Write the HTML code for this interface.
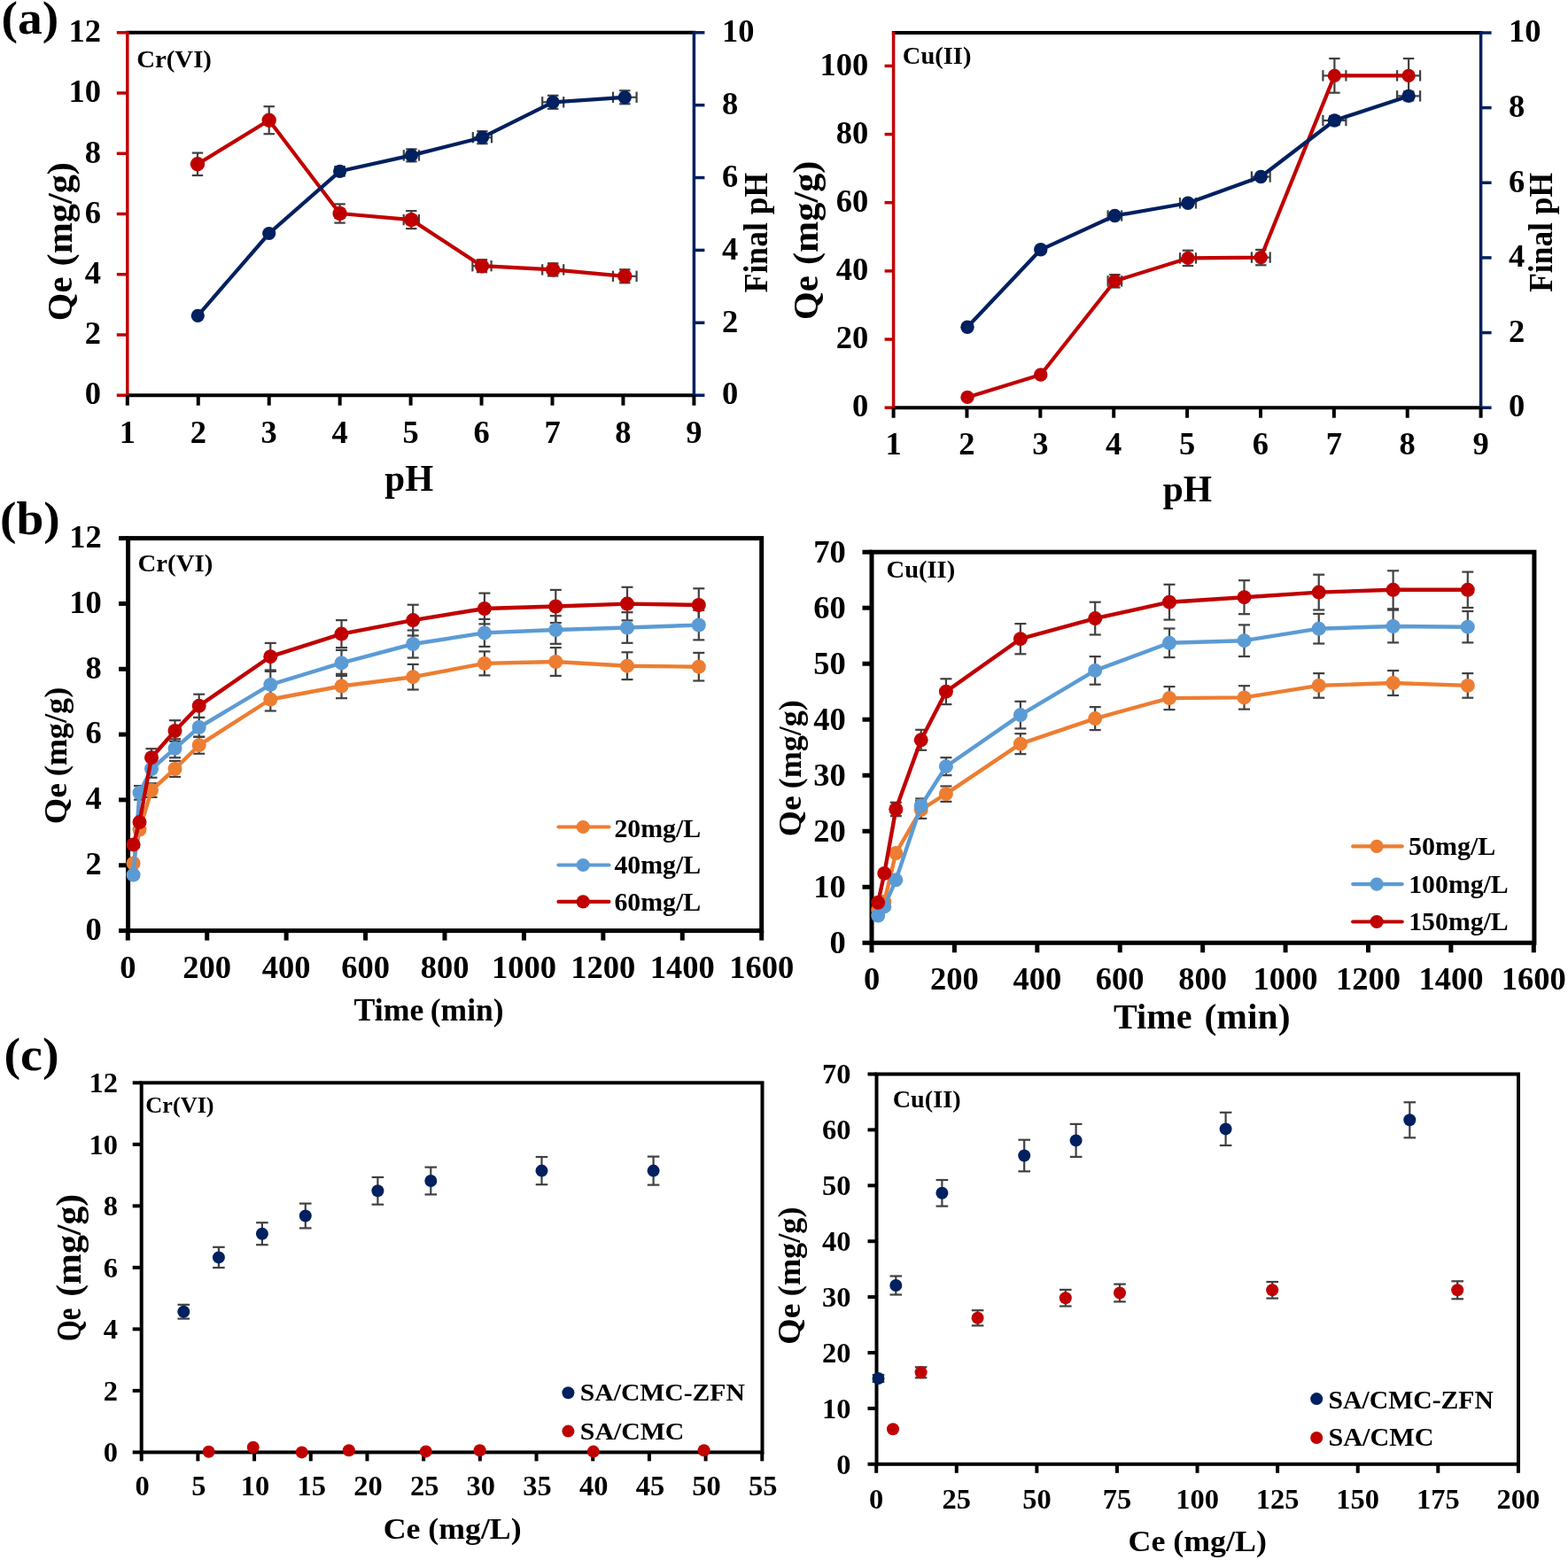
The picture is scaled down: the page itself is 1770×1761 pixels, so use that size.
<!DOCTYPE html>
<html><head><meta charset="utf-8"><title>Adsorption figure</title>
<style>
html,body{margin:0;padding:0;background:#fff;}
svg{display:block;}
text{font-family:'Liberation Serif', 'Times New Roman', serif;font-weight:bold;fill:#000;}
</style></head><body>
<svg width="1770" height="1761" viewBox="0 0 1770 1761">
<rect width="1770" height="1761" fill="#fff"/>
<line x1="142.05" y1="36.80" x2="785.15" y2="36.80" stroke="#000" stroke-width="4" stroke-linecap="butt"/>
<line x1="143.80" y1="446.20" x2="783.40" y2="446.20" stroke="#000" stroke-width="4" stroke-linecap="butt"/>
<line x1="143.80" y1="35.30" x2="143.80" y2="447.70" stroke="#C00000" stroke-width="3.5" stroke-linecap="butt"/>
<line x1="783.40" y1="35.30" x2="783.40" y2="447.70" stroke="#002060" stroke-width="3.5" stroke-linecap="butt"/>
<line x1="131.80" y1="446.20" x2="143.80" y2="446.20" stroke="#C00000" stroke-width="3.5" stroke-linecap="butt"/>
<text x="114.06" y="456.44" font-size="36.5" text-anchor="end">0</text>
<line x1="131.80" y1="377.97" x2="143.80" y2="377.97" stroke="#C00000" stroke-width="3.5" stroke-linecap="butt"/>
<text x="114.06" y="388.21" font-size="36.5" text-anchor="end">2</text>
<line x1="131.80" y1="309.73" x2="143.80" y2="309.73" stroke="#C00000" stroke-width="3.5" stroke-linecap="butt"/>
<text x="114.06" y="319.98" font-size="36.5" text-anchor="end">4</text>
<line x1="131.80" y1="241.50" x2="143.80" y2="241.50" stroke="#C00000" stroke-width="3.5" stroke-linecap="butt"/>
<text x="114.06" y="251.75" font-size="36.5" text-anchor="end">6</text>
<line x1="131.80" y1="173.27" x2="143.80" y2="173.27" stroke="#C00000" stroke-width="3.5" stroke-linecap="butt"/>
<text x="114.06" y="183.51" font-size="36.5" text-anchor="end">8</text>
<line x1="131.80" y1="105.03" x2="143.80" y2="105.03" stroke="#C00000" stroke-width="3.5" stroke-linecap="butt"/>
<text x="114.06" y="115.28" font-size="36.5" text-anchor="end">10</text>
<line x1="131.80" y1="36.80" x2="143.80" y2="36.80" stroke="#C00000" stroke-width="3.5" stroke-linecap="butt"/>
<text x="114.06" y="47.05" font-size="36.5" text-anchor="end">12</text>
<line x1="783.40" y1="446.20" x2="795.40" y2="446.20" stroke="#002060" stroke-width="3.5" stroke-linecap="butt"/>
<text x="815.00" y="456.44" font-size="36.5" text-anchor="start">0</text>
<line x1="783.40" y1="364.32" x2="795.40" y2="364.32" stroke="#002060" stroke-width="3.5" stroke-linecap="butt"/>
<text x="815.00" y="374.56" font-size="36.5" text-anchor="start">2</text>
<line x1="783.40" y1="282.44" x2="795.40" y2="282.44" stroke="#002060" stroke-width="3.5" stroke-linecap="butt"/>
<text x="815.00" y="292.69" font-size="36.5" text-anchor="start">4</text>
<line x1="783.40" y1="200.56" x2="795.40" y2="200.56" stroke="#002060" stroke-width="3.5" stroke-linecap="butt"/>
<text x="815.00" y="210.81" font-size="36.5" text-anchor="start">6</text>
<line x1="783.40" y1="118.68" x2="795.40" y2="118.68" stroke="#002060" stroke-width="3.5" stroke-linecap="butt"/>
<text x="815.00" y="128.92" font-size="36.5" text-anchor="start">8</text>
<line x1="783.40" y1="36.80" x2="795.40" y2="36.80" stroke="#002060" stroke-width="3.5" stroke-linecap="butt"/>
<text x="815.00" y="47.05" font-size="36.5" text-anchor="start">10</text>
<line x1="143.80" y1="446.20" x2="143.80" y2="457.70" stroke="#000" stroke-width="4" stroke-linecap="butt"/>
<text x="143.80" y="499.90" font-size="36.5" text-anchor="middle">1</text>
<line x1="223.75" y1="446.20" x2="223.75" y2="457.70" stroke="#000" stroke-width="4" stroke-linecap="butt"/>
<text x="223.75" y="499.90" font-size="36.5" text-anchor="middle">2</text>
<line x1="303.70" y1="446.20" x2="303.70" y2="457.70" stroke="#000" stroke-width="4" stroke-linecap="butt"/>
<text x="303.70" y="499.90" font-size="36.5" text-anchor="middle">3</text>
<line x1="383.65" y1="446.20" x2="383.65" y2="457.70" stroke="#000" stroke-width="4" stroke-linecap="butt"/>
<text x="383.65" y="499.90" font-size="36.5" text-anchor="middle">4</text>
<line x1="463.60" y1="446.20" x2="463.60" y2="457.70" stroke="#000" stroke-width="4" stroke-linecap="butt"/>
<text x="463.60" y="499.90" font-size="36.5" text-anchor="middle">5</text>
<line x1="543.55" y1="446.20" x2="543.55" y2="457.70" stroke="#000" stroke-width="4" stroke-linecap="butt"/>
<text x="543.55" y="499.90" font-size="36.5" text-anchor="middle">6</text>
<line x1="623.50" y1="446.20" x2="623.50" y2="457.70" stroke="#000" stroke-width="4" stroke-linecap="butt"/>
<text x="623.50" y="499.90" font-size="36.5" text-anchor="middle">7</text>
<line x1="703.45" y1="446.20" x2="703.45" y2="457.70" stroke="#000" stroke-width="4" stroke-linecap="butt"/>
<text x="703.45" y="499.90" font-size="36.5" text-anchor="middle">8</text>
<line x1="783.40" y1="446.20" x2="783.40" y2="457.70" stroke="#000" stroke-width="4" stroke-linecap="butt"/>
<text x="783.40" y="499.90" font-size="36.5" text-anchor="middle">9</text>
<text x="434.29" y="554.30" font-size="41.99" textLength="54.89" lengthAdjust="spacingAndGlyphs">pH</text>
<text transform="translate(80.60,362.13) rotate(-90)" x="0" y="0" font-size="39.50" textLength="49.62" lengthAdjust="spacingAndGlyphs">Qe</text>
<text transform="translate(80.60,300.39) rotate(-90)" x="0" y="0" font-size="39.50" textLength="117.27" lengthAdjust="spacingAndGlyphs">(mg/g)</text>
<text transform="translate(865.90,330.21) rotate(-90)" x="0" y="0" font-size="37.00" textLength="135.28" lengthAdjust="spacingAndGlyphs">Final pH</text>
<text x="154.16" y="75.75" font-size="26.89" textLength="84.78" lengthAdjust="spacingAndGlyphs">Cr(VI)</text>
<text x="1.48" y="37.74" font-size="52.67" textLength="64.78" lengthAdjust="spacingAndGlyphs">(a)</text>
<line x1="223.00" y1="172.60" x2="223.00" y2="198.00" stroke="#404040" stroke-width="2.2" stroke-linecap="butt"/>
<line x1="216.80" y1="172.60" x2="229.20" y2="172.60" stroke="#404040" stroke-width="2.2" stroke-linecap="butt"/>
<line x1="216.80" y1="198.00" x2="229.20" y2="198.00" stroke="#404040" stroke-width="2.2" stroke-linecap="butt"/>
<line x1="303.70" y1="120.20" x2="303.70" y2="151.20" stroke="#404040" stroke-width="2.2" stroke-linecap="butt"/>
<line x1="297.50" y1="120.20" x2="309.90" y2="120.20" stroke="#404040" stroke-width="2.2" stroke-linecap="butt"/>
<line x1="297.50" y1="151.20" x2="309.90" y2="151.20" stroke="#404040" stroke-width="2.2" stroke-linecap="butt"/>
<line x1="383.60" y1="230.40" x2="383.60" y2="251.60" stroke="#404040" stroke-width="2.2" stroke-linecap="butt"/>
<line x1="377.40" y1="230.40" x2="389.80" y2="230.40" stroke="#404040" stroke-width="2.2" stroke-linecap="butt"/>
<line x1="377.40" y1="251.60" x2="389.80" y2="251.60" stroke="#404040" stroke-width="2.2" stroke-linecap="butt"/>
<line x1="378.60" y1="241.00" x2="388.60" y2="241.00" stroke="#404040" stroke-width="2.2" stroke-linecap="butt"/>
<line x1="378.60" y1="234.80" x2="378.60" y2="247.20" stroke="#404040" stroke-width="2.2" stroke-linecap="butt"/>
<line x1="388.60" y1="234.80" x2="388.60" y2="247.20" stroke="#404040" stroke-width="2.2" stroke-linecap="butt"/>
<line x1="464.30" y1="238.10" x2="464.30" y2="258.10" stroke="#404040" stroke-width="2.2" stroke-linecap="butt"/>
<line x1="458.10" y1="238.10" x2="470.50" y2="238.10" stroke="#404040" stroke-width="2.2" stroke-linecap="butt"/>
<line x1="458.10" y1="258.10" x2="470.50" y2="258.10" stroke="#404040" stroke-width="2.2" stroke-linecap="butt"/>
<line x1="455.70" y1="248.10" x2="472.90" y2="248.10" stroke="#404040" stroke-width="2.2" stroke-linecap="butt"/>
<line x1="455.70" y1="241.90" x2="455.70" y2="254.30" stroke="#404040" stroke-width="2.2" stroke-linecap="butt"/>
<line x1="472.90" y1="241.90" x2="472.90" y2="254.30" stroke="#404040" stroke-width="2.2" stroke-linecap="butt"/>
<line x1="544.00" y1="293.20" x2="544.00" y2="307.20" stroke="#404040" stroke-width="2.2" stroke-linecap="butt"/>
<line x1="537.80" y1="293.20" x2="550.20" y2="293.20" stroke="#404040" stroke-width="2.2" stroke-linecap="butt"/>
<line x1="537.80" y1="307.20" x2="550.20" y2="307.20" stroke="#404040" stroke-width="2.2" stroke-linecap="butt"/>
<line x1="533.40" y1="300.20" x2="554.60" y2="300.20" stroke="#404040" stroke-width="2.2" stroke-linecap="butt"/>
<line x1="533.40" y1="294.00" x2="533.40" y2="306.40" stroke="#404040" stroke-width="2.2" stroke-linecap="butt"/>
<line x1="554.60" y1="294.00" x2="554.60" y2="306.40" stroke="#404040" stroke-width="2.2" stroke-linecap="butt"/>
<line x1="624.20" y1="297.30" x2="624.20" y2="311.50" stroke="#404040" stroke-width="2.2" stroke-linecap="butt"/>
<line x1="618.00" y1="297.30" x2="630.40" y2="297.30" stroke="#404040" stroke-width="2.2" stroke-linecap="butt"/>
<line x1="618.00" y1="311.50" x2="630.40" y2="311.50" stroke="#404040" stroke-width="2.2" stroke-linecap="butt"/>
<line x1="612.20" y1="304.40" x2="636.20" y2="304.40" stroke="#404040" stroke-width="2.2" stroke-linecap="butt"/>
<line x1="612.20" y1="298.20" x2="612.20" y2="310.60" stroke="#404040" stroke-width="2.2" stroke-linecap="butt"/>
<line x1="636.20" y1="298.20" x2="636.20" y2="310.60" stroke="#404040" stroke-width="2.2" stroke-linecap="butt"/>
<line x1="705.30" y1="304.30" x2="705.30" y2="319.30" stroke="#404040" stroke-width="2.2" stroke-linecap="butt"/>
<line x1="699.10" y1="304.30" x2="711.50" y2="304.30" stroke="#404040" stroke-width="2.2" stroke-linecap="butt"/>
<line x1="699.10" y1="319.30" x2="711.50" y2="319.30" stroke="#404040" stroke-width="2.2" stroke-linecap="butt"/>
<line x1="692.00" y1="311.80" x2="718.60" y2="311.80" stroke="#404040" stroke-width="2.2" stroke-linecap="butt"/>
<line x1="692.00" y1="305.60" x2="692.00" y2="318.00" stroke="#404040" stroke-width="2.2" stroke-linecap="butt"/>
<line x1="718.60" y1="305.60" x2="718.60" y2="318.00" stroke="#404040" stroke-width="2.2" stroke-linecap="butt"/>
<line x1="383.60" y1="188.30" x2="383.60" y2="198.30" stroke="#404040" stroke-width="2.2" stroke-linecap="butt"/>
<line x1="377.40" y1="188.30" x2="389.80" y2="188.30" stroke="#404040" stroke-width="2.2" stroke-linecap="butt"/>
<line x1="377.40" y1="198.30" x2="389.80" y2="198.30" stroke="#404040" stroke-width="2.2" stroke-linecap="butt"/>
<line x1="378.60" y1="193.30" x2="388.60" y2="193.30" stroke="#404040" stroke-width="2.2" stroke-linecap="butt"/>
<line x1="378.60" y1="187.10" x2="378.60" y2="199.50" stroke="#404040" stroke-width="2.2" stroke-linecap="butt"/>
<line x1="388.60" y1="187.10" x2="388.60" y2="199.50" stroke="#404040" stroke-width="2.2" stroke-linecap="butt"/>
<line x1="464.40" y1="168.40" x2="464.40" y2="182.40" stroke="#404040" stroke-width="2.2" stroke-linecap="butt"/>
<line x1="458.20" y1="168.40" x2="470.60" y2="168.40" stroke="#404040" stroke-width="2.2" stroke-linecap="butt"/>
<line x1="458.20" y1="182.40" x2="470.60" y2="182.40" stroke="#404040" stroke-width="2.2" stroke-linecap="butt"/>
<line x1="455.80" y1="175.40" x2="473.00" y2="175.40" stroke="#404040" stroke-width="2.2" stroke-linecap="butt"/>
<line x1="455.80" y1="169.20" x2="455.80" y2="181.60" stroke="#404040" stroke-width="2.2" stroke-linecap="butt"/>
<line x1="473.00" y1="169.20" x2="473.00" y2="181.60" stroke="#404040" stroke-width="2.2" stroke-linecap="butt"/>
<line x1="544.40" y1="148.20" x2="544.40" y2="162.20" stroke="#404040" stroke-width="2.2" stroke-linecap="butt"/>
<line x1="538.20" y1="148.20" x2="550.60" y2="148.20" stroke="#404040" stroke-width="2.2" stroke-linecap="butt"/>
<line x1="538.20" y1="162.20" x2="550.60" y2="162.20" stroke="#404040" stroke-width="2.2" stroke-linecap="butt"/>
<line x1="533.80" y1="155.20" x2="555.00" y2="155.20" stroke="#404040" stroke-width="2.2" stroke-linecap="butt"/>
<line x1="533.80" y1="149.00" x2="533.80" y2="161.40" stroke="#404040" stroke-width="2.2" stroke-linecap="butt"/>
<line x1="555.00" y1="149.00" x2="555.00" y2="161.40" stroke="#404040" stroke-width="2.2" stroke-linecap="butt"/>
<line x1="624.20" y1="107.80" x2="624.20" y2="122.80" stroke="#404040" stroke-width="2.2" stroke-linecap="butt"/>
<line x1="618.00" y1="107.80" x2="630.40" y2="107.80" stroke="#404040" stroke-width="2.2" stroke-linecap="butt"/>
<line x1="618.00" y1="122.80" x2="630.40" y2="122.80" stroke="#404040" stroke-width="2.2" stroke-linecap="butt"/>
<line x1="612.20" y1="115.30" x2="636.20" y2="115.30" stroke="#404040" stroke-width="2.2" stroke-linecap="butt"/>
<line x1="612.20" y1="109.10" x2="612.20" y2="121.50" stroke="#404040" stroke-width="2.2" stroke-linecap="butt"/>
<line x1="636.20" y1="109.10" x2="636.20" y2="121.50" stroke="#404040" stroke-width="2.2" stroke-linecap="butt"/>
<line x1="705.30" y1="102.30" x2="705.30" y2="117.30" stroke="#404040" stroke-width="2.2" stroke-linecap="butt"/>
<line x1="699.10" y1="102.30" x2="711.50" y2="102.30" stroke="#404040" stroke-width="2.2" stroke-linecap="butt"/>
<line x1="699.10" y1="117.30" x2="711.50" y2="117.30" stroke="#404040" stroke-width="2.2" stroke-linecap="butt"/>
<line x1="692.00" y1="109.80" x2="718.60" y2="109.80" stroke="#404040" stroke-width="2.2" stroke-linecap="butt"/>
<line x1="692.00" y1="103.60" x2="692.00" y2="116.00" stroke="#404040" stroke-width="2.2" stroke-linecap="butt"/>
<line x1="718.60" y1="103.60" x2="718.60" y2="116.00" stroke="#404040" stroke-width="2.2" stroke-linecap="butt"/>
<polyline points="223.00,185.30 303.70,135.70 383.60,241.00 464.30,248.10 544.00,300.20 624.20,304.40 705.30,311.80" fill="none" stroke="#C00000" stroke-width="4.2" stroke-linejoin="round" stroke-linecap="round"/>
<circle cx="223.00" cy="185.30" r="8.2" fill="#C00000"/>
<circle cx="303.70" cy="135.70" r="8.2" fill="#C00000"/>
<circle cx="383.60" cy="241.00" r="8.2" fill="#C00000"/>
<circle cx="464.30" cy="248.10" r="8.2" fill="#C00000"/>
<circle cx="544.00" cy="300.20" r="8.2" fill="#C00000"/>
<circle cx="624.20" cy="304.40" r="8.2" fill="#C00000"/>
<circle cx="705.30" cy="311.80" r="8.2" fill="#C00000"/>
<polyline points="223.30,356.30 303.70,263.50 383.60,193.30 464.40,175.40 544.40,155.20 624.20,115.30 705.30,109.80" fill="none" stroke="#002060" stroke-width="4.2" stroke-linejoin="round" stroke-linecap="round"/>
<circle cx="223.30" cy="356.30" r="7.6" fill="#002060"/>
<circle cx="303.70" cy="263.50" r="7.6" fill="#002060"/>
<circle cx="383.60" cy="193.30" r="7.6" fill="#002060"/>
<circle cx="464.40" cy="175.40" r="7.6" fill="#002060"/>
<circle cx="544.40" cy="155.20" r="7.6" fill="#002060"/>
<circle cx="624.20" cy="115.30" r="7.6" fill="#002060"/>
<circle cx="705.30" cy="109.80" r="7.6" fill="#002060"/>
<line x1="1006.85" y1="37.00" x2="1673.35" y2="37.00" stroke="#000" stroke-width="4" stroke-linecap="butt"/>
<line x1="1008.60" y1="460.20" x2="1671.60" y2="460.20" stroke="#000" stroke-width="4" stroke-linecap="butt"/>
<line x1="1008.60" y1="35.50" x2="1008.60" y2="461.70" stroke="#C00000" stroke-width="3.5" stroke-linecap="butt"/>
<line x1="1671.60" y1="35.50" x2="1671.60" y2="461.70" stroke="#002060" stroke-width="3.5" stroke-linecap="butt"/>
<line x1="998.60" y1="460.20" x2="1008.60" y2="460.20" stroke="#C00000" stroke-width="3.5" stroke-linecap="butt"/>
<text x="980.16" y="470.44" font-size="36.5" text-anchor="end">0</text>
<line x1="998.60" y1="383.05" x2="1008.60" y2="383.05" stroke="#C00000" stroke-width="3.5" stroke-linecap="butt"/>
<text x="980.16" y="393.29" font-size="36.5" text-anchor="end">20</text>
<line x1="998.60" y1="305.90" x2="1008.60" y2="305.90" stroke="#C00000" stroke-width="3.5" stroke-linecap="butt"/>
<text x="980.16" y="316.14" font-size="36.5" text-anchor="end">40</text>
<line x1="998.60" y1="228.75" x2="1008.60" y2="228.75" stroke="#C00000" stroke-width="3.5" stroke-linecap="butt"/>
<text x="980.16" y="238.99" font-size="36.5" text-anchor="end">60</text>
<line x1="998.60" y1="151.60" x2="1008.60" y2="151.60" stroke="#C00000" stroke-width="3.5" stroke-linecap="butt"/>
<text x="980.16" y="161.84" font-size="36.5" text-anchor="end">80</text>
<line x1="998.60" y1="74.45" x2="1008.60" y2="74.45" stroke="#C00000" stroke-width="3.5" stroke-linecap="butt"/>
<text x="980.16" y="84.69" font-size="36.5" text-anchor="end">100</text>
<line x1="1671.60" y1="460.20" x2="1683.60" y2="460.20" stroke="#002060" stroke-width="3.5" stroke-linecap="butt"/>
<text x="1703.00" y="470.44" font-size="36.5" text-anchor="start">0</text>
<line x1="1671.60" y1="375.56" x2="1683.60" y2="375.56" stroke="#002060" stroke-width="3.5" stroke-linecap="butt"/>
<text x="1703.00" y="385.81" font-size="36.5" text-anchor="start">2</text>
<line x1="1671.60" y1="290.92" x2="1683.60" y2="290.92" stroke="#002060" stroke-width="3.5" stroke-linecap="butt"/>
<text x="1703.00" y="301.16" font-size="36.5" text-anchor="start">4</text>
<line x1="1671.60" y1="206.28" x2="1683.60" y2="206.28" stroke="#002060" stroke-width="3.5" stroke-linecap="butt"/>
<text x="1703.00" y="216.52" font-size="36.5" text-anchor="start">6</text>
<line x1="1671.60" y1="121.64" x2="1683.60" y2="121.64" stroke="#002060" stroke-width="3.5" stroke-linecap="butt"/>
<text x="1703.00" y="131.88" font-size="36.5" text-anchor="start">8</text>
<line x1="1671.60" y1="37.00" x2="1683.60" y2="37.00" stroke="#002060" stroke-width="3.5" stroke-linecap="butt"/>
<text x="1703.00" y="47.25" font-size="36.5" text-anchor="start">10</text>
<line x1="1008.60" y1="460.20" x2="1008.60" y2="471.70" stroke="#000" stroke-width="4" stroke-linecap="butt"/>
<text x="1008.60" y="513.20" font-size="36.5" text-anchor="middle">1</text>
<line x1="1091.47" y1="460.20" x2="1091.47" y2="471.70" stroke="#000" stroke-width="4" stroke-linecap="butt"/>
<text x="1091.47" y="513.20" font-size="36.5" text-anchor="middle">2</text>
<line x1="1174.35" y1="460.20" x2="1174.35" y2="471.70" stroke="#000" stroke-width="4" stroke-linecap="butt"/>
<text x="1174.35" y="513.20" font-size="36.5" text-anchor="middle">3</text>
<line x1="1257.22" y1="460.20" x2="1257.22" y2="471.70" stroke="#000" stroke-width="4" stroke-linecap="butt"/>
<text x="1257.22" y="513.20" font-size="36.5" text-anchor="middle">4</text>
<line x1="1340.10" y1="460.20" x2="1340.10" y2="471.70" stroke="#000" stroke-width="4" stroke-linecap="butt"/>
<text x="1340.10" y="513.20" font-size="36.5" text-anchor="middle">5</text>
<line x1="1422.97" y1="460.20" x2="1422.97" y2="471.70" stroke="#000" stroke-width="4" stroke-linecap="butt"/>
<text x="1422.97" y="513.20" font-size="36.5" text-anchor="middle">6</text>
<line x1="1505.85" y1="460.20" x2="1505.85" y2="471.70" stroke="#000" stroke-width="4" stroke-linecap="butt"/>
<text x="1505.85" y="513.20" font-size="36.5" text-anchor="middle">7</text>
<line x1="1588.72" y1="460.20" x2="1588.72" y2="471.70" stroke="#000" stroke-width="4" stroke-linecap="butt"/>
<text x="1588.72" y="513.20" font-size="36.5" text-anchor="middle">8</text>
<line x1="1671.60" y1="460.20" x2="1671.60" y2="471.70" stroke="#000" stroke-width="4" stroke-linecap="butt"/>
<text x="1671.60" y="513.20" font-size="36.5" text-anchor="middle">9</text>
<text x="1312.79" y="566.44" font-size="41.13" textLength="55.29" lengthAdjust="spacingAndGlyphs">pH</text>
<text transform="translate(923.10,360.94) rotate(-90)" x="0" y="0" font-size="39.50" textLength="49.84" lengthAdjust="spacingAndGlyphs">Qe</text>
<text transform="translate(923.10,299.09) rotate(-90)" x="0" y="0" font-size="39.50" textLength="117.48" lengthAdjust="spacingAndGlyphs">(mg/g)</text>
<text transform="translate(1752.30,329.81) rotate(-90)" x="0" y="0" font-size="37.00" textLength="134.88" lengthAdjust="spacingAndGlyphs">Final pH</text>
<text x="1018.88" y="72.47" font-size="27.78" textLength="77.55" lengthAdjust="spacingAndGlyphs">Cu(II)</text>
<line x1="1258.40" y1="310.10" x2="1258.40" y2="324.50" stroke="#404040" stroke-width="2.2" stroke-linecap="butt"/>
<line x1="1252.20" y1="310.10" x2="1264.60" y2="310.10" stroke="#404040" stroke-width="2.2" stroke-linecap="butt"/>
<line x1="1252.20" y1="324.50" x2="1264.60" y2="324.50" stroke="#404040" stroke-width="2.2" stroke-linecap="butt"/>
<line x1="1250.60" y1="317.30" x2="1266.20" y2="317.30" stroke="#404040" stroke-width="2.2" stroke-linecap="butt"/>
<line x1="1250.60" y1="311.10" x2="1250.60" y2="323.50" stroke="#404040" stroke-width="2.2" stroke-linecap="butt"/>
<line x1="1266.20" y1="311.10" x2="1266.20" y2="323.50" stroke="#404040" stroke-width="2.2" stroke-linecap="butt"/>
<line x1="1341.00" y1="282.70" x2="1341.00" y2="300.10" stroke="#404040" stroke-width="2.2" stroke-linecap="butt"/>
<line x1="1334.80" y1="282.70" x2="1347.20" y2="282.70" stroke="#404040" stroke-width="2.2" stroke-linecap="butt"/>
<line x1="1334.80" y1="300.10" x2="1347.20" y2="300.10" stroke="#404040" stroke-width="2.2" stroke-linecap="butt"/>
<line x1="1332.00" y1="291.40" x2="1350.00" y2="291.40" stroke="#404040" stroke-width="2.2" stroke-linecap="butt"/>
<line x1="1332.00" y1="285.20" x2="1332.00" y2="297.60" stroke="#404040" stroke-width="2.2" stroke-linecap="butt"/>
<line x1="1350.00" y1="285.20" x2="1350.00" y2="297.60" stroke="#404040" stroke-width="2.2" stroke-linecap="butt"/>
<line x1="1423.30" y1="281.90" x2="1423.30" y2="299.30" stroke="#404040" stroke-width="2.2" stroke-linecap="butt"/>
<line x1="1417.10" y1="281.90" x2="1429.50" y2="281.90" stroke="#404040" stroke-width="2.2" stroke-linecap="butt"/>
<line x1="1417.10" y1="299.30" x2="1429.50" y2="299.30" stroke="#404040" stroke-width="2.2" stroke-linecap="butt"/>
<line x1="1412.90" y1="290.60" x2="1433.70" y2="290.60" stroke="#404040" stroke-width="2.2" stroke-linecap="butt"/>
<line x1="1412.90" y1="284.40" x2="1412.90" y2="296.80" stroke="#404040" stroke-width="2.2" stroke-linecap="butt"/>
<line x1="1433.70" y1="284.40" x2="1433.70" y2="296.80" stroke="#404040" stroke-width="2.2" stroke-linecap="butt"/>
<line x1="1506.40" y1="66.10" x2="1506.40" y2="104.70" stroke="#404040" stroke-width="2.2" stroke-linecap="butt"/>
<line x1="1500.20" y1="66.10" x2="1512.60" y2="66.10" stroke="#404040" stroke-width="2.2" stroke-linecap="butt"/>
<line x1="1500.20" y1="104.70" x2="1512.60" y2="104.70" stroke="#404040" stroke-width="2.2" stroke-linecap="butt"/>
<line x1="1493.40" y1="85.40" x2="1519.40" y2="85.40" stroke="#404040" stroke-width="2.2" stroke-linecap="butt"/>
<line x1="1493.40" y1="79.20" x2="1493.40" y2="91.60" stroke="#404040" stroke-width="2.2" stroke-linecap="butt"/>
<line x1="1519.40" y1="79.20" x2="1519.40" y2="91.60" stroke="#404040" stroke-width="2.2" stroke-linecap="butt"/>
<line x1="1590.10" y1="66.10" x2="1590.10" y2="104.70" stroke="#404040" stroke-width="2.2" stroke-linecap="butt"/>
<line x1="1583.90" y1="66.10" x2="1596.30" y2="66.10" stroke="#404040" stroke-width="2.2" stroke-linecap="butt"/>
<line x1="1583.90" y1="104.70" x2="1596.30" y2="104.70" stroke="#404040" stroke-width="2.2" stroke-linecap="butt"/>
<line x1="1577.10" y1="85.40" x2="1603.10" y2="85.40" stroke="#404040" stroke-width="2.2" stroke-linecap="butt"/>
<line x1="1577.10" y1="79.20" x2="1577.10" y2="91.60" stroke="#404040" stroke-width="2.2" stroke-linecap="butt"/>
<line x1="1603.10" y1="79.20" x2="1603.10" y2="91.60" stroke="#404040" stroke-width="2.2" stroke-linecap="butt"/>
<line x1="1250.60" y1="243.50" x2="1266.20" y2="243.50" stroke="#404040" stroke-width="2.2" stroke-linecap="butt"/>
<line x1="1250.60" y1="237.30" x2="1250.60" y2="249.70" stroke="#404040" stroke-width="2.2" stroke-linecap="butt"/>
<line x1="1266.20" y1="237.30" x2="1266.20" y2="249.70" stroke="#404040" stroke-width="2.2" stroke-linecap="butt"/>
<line x1="1332.00" y1="229.30" x2="1350.00" y2="229.30" stroke="#404040" stroke-width="2.2" stroke-linecap="butt"/>
<line x1="1332.00" y1="223.10" x2="1332.00" y2="235.50" stroke="#404040" stroke-width="2.2" stroke-linecap="butt"/>
<line x1="1350.00" y1="223.10" x2="1350.00" y2="235.50" stroke="#404040" stroke-width="2.2" stroke-linecap="butt"/>
<line x1="1412.90" y1="199.50" x2="1433.70" y2="199.50" stroke="#404040" stroke-width="2.2" stroke-linecap="butt"/>
<line x1="1412.90" y1="193.30" x2="1412.90" y2="205.70" stroke="#404040" stroke-width="2.2" stroke-linecap="butt"/>
<line x1="1433.70" y1="193.30" x2="1433.70" y2="205.70" stroke="#404040" stroke-width="2.2" stroke-linecap="butt"/>
<line x1="1506.40" y1="131.00" x2="1506.40" y2="141.00" stroke="#404040" stroke-width="2.2" stroke-linecap="butt"/>
<line x1="1500.20" y1="131.00" x2="1512.60" y2="131.00" stroke="#404040" stroke-width="2.2" stroke-linecap="butt"/>
<line x1="1500.20" y1="141.00" x2="1512.60" y2="141.00" stroke="#404040" stroke-width="2.2" stroke-linecap="butt"/>
<line x1="1493.40" y1="136.00" x2="1519.40" y2="136.00" stroke="#404040" stroke-width="2.2" stroke-linecap="butt"/>
<line x1="1493.40" y1="129.80" x2="1493.40" y2="142.20" stroke="#404040" stroke-width="2.2" stroke-linecap="butt"/>
<line x1="1519.40" y1="129.80" x2="1519.40" y2="142.20" stroke="#404040" stroke-width="2.2" stroke-linecap="butt"/>
<line x1="1590.10" y1="103.40" x2="1590.10" y2="113.40" stroke="#404040" stroke-width="2.2" stroke-linecap="butt"/>
<line x1="1583.90" y1="103.40" x2="1596.30" y2="103.40" stroke="#404040" stroke-width="2.2" stroke-linecap="butt"/>
<line x1="1583.90" y1="113.40" x2="1596.30" y2="113.40" stroke="#404040" stroke-width="2.2" stroke-linecap="butt"/>
<line x1="1577.10" y1="108.40" x2="1603.10" y2="108.40" stroke="#404040" stroke-width="2.2" stroke-linecap="butt"/>
<line x1="1577.10" y1="102.20" x2="1577.10" y2="114.60" stroke="#404040" stroke-width="2.2" stroke-linecap="butt"/>
<line x1="1603.10" y1="102.20" x2="1603.10" y2="114.60" stroke="#404040" stroke-width="2.2" stroke-linecap="butt"/>
<polyline points="1092.00,448.40 1174.80,423.00 1258.40,317.30 1341.00,291.40 1423.30,290.60 1506.40,85.40 1590.10,85.40" fill="none" stroke="#C00000" stroke-width="4.2" stroke-linejoin="round" stroke-linecap="round"/>
<circle cx="1092.00" cy="448.40" r="7.7" fill="#C00000"/>
<circle cx="1174.80" cy="423.00" r="7.7" fill="#C00000"/>
<circle cx="1258.40" cy="317.30" r="7.7" fill="#C00000"/>
<circle cx="1341.00" cy="291.40" r="7.7" fill="#C00000"/>
<circle cx="1423.30" cy="290.60" r="7.7" fill="#C00000"/>
<circle cx="1506.40" cy="85.40" r="7.7" fill="#C00000"/>
<circle cx="1590.10" cy="85.40" r="7.7" fill="#C00000"/>
<polyline points="1092.00,369.30 1174.80,281.80 1258.40,243.50 1341.00,229.30 1423.30,199.50 1506.40,136.00 1590.10,108.40" fill="none" stroke="#002060" stroke-width="4.2" stroke-linejoin="round" stroke-linecap="round"/>
<circle cx="1092.00" cy="369.30" r="7.7" fill="#002060"/>
<circle cx="1174.80" cy="281.80" r="7.7" fill="#002060"/>
<circle cx="1258.40" cy="243.50" r="7.7" fill="#002060"/>
<circle cx="1341.00" cy="229.30" r="7.7" fill="#002060"/>
<circle cx="1423.30" cy="199.50" r="7.7" fill="#002060"/>
<circle cx="1506.40" cy="136.00" r="7.7" fill="#002060"/>
<circle cx="1590.10" cy="108.40" r="7.7" fill="#002060"/>
<line x1="134.10" y1="1050.60" x2="144.60" y2="1050.60" stroke="#000" stroke-width="5" stroke-linecap="butt"/>
<text x="114.86" y="1060.85" font-size="36.5" text-anchor="end">0</text>
<line x1="134.10" y1="976.77" x2="144.60" y2="976.77" stroke="#000" stroke-width="5" stroke-linecap="butt"/>
<text x="114.86" y="987.01" font-size="36.5" text-anchor="end">2</text>
<line x1="134.10" y1="902.93" x2="144.60" y2="902.93" stroke="#000" stroke-width="5" stroke-linecap="butt"/>
<text x="114.86" y="913.18" font-size="36.5" text-anchor="end">4</text>
<line x1="134.10" y1="829.10" x2="144.60" y2="829.10" stroke="#000" stroke-width="5" stroke-linecap="butt"/>
<text x="114.86" y="839.35" font-size="36.5" text-anchor="end">6</text>
<line x1="134.10" y1="755.27" x2="144.60" y2="755.27" stroke="#000" stroke-width="5" stroke-linecap="butt"/>
<text x="114.86" y="765.51" font-size="36.5" text-anchor="end">8</text>
<line x1="134.10" y1="681.43" x2="144.60" y2="681.43" stroke="#000" stroke-width="5" stroke-linecap="butt"/>
<text x="114.86" y="691.68" font-size="36.5" text-anchor="end">10</text>
<line x1="134.10" y1="607.60" x2="144.60" y2="607.60" stroke="#000" stroke-width="5" stroke-linecap="butt"/>
<text x="114.86" y="617.85" font-size="36.5" text-anchor="end">12</text>
<line x1="144.30" y1="1050.60" x2="144.30" y2="1061.60" stroke="#000" stroke-width="5" stroke-linecap="butt"/>
<text x="144.30" y="1103.70" font-size="36.5" text-anchor="middle">0</text>
<line x1="233.73" y1="1050.60" x2="233.73" y2="1061.60" stroke="#000" stroke-width="5" stroke-linecap="butt"/>
<text x="233.73" y="1103.70" font-size="36.5" text-anchor="middle">200</text>
<line x1="323.15" y1="1050.60" x2="323.15" y2="1061.60" stroke="#000" stroke-width="5" stroke-linecap="butt"/>
<text x="323.15" y="1103.70" font-size="36.5" text-anchor="middle">400</text>
<line x1="412.58" y1="1050.60" x2="412.58" y2="1061.60" stroke="#000" stroke-width="5" stroke-linecap="butt"/>
<text x="412.58" y="1103.70" font-size="36.5" text-anchor="middle">600</text>
<line x1="502.00" y1="1050.60" x2="502.00" y2="1061.60" stroke="#000" stroke-width="5" stroke-linecap="butt"/>
<text x="502.00" y="1103.70" font-size="36.5" text-anchor="middle">800</text>
<line x1="591.43" y1="1050.60" x2="591.43" y2="1061.60" stroke="#000" stroke-width="5" stroke-linecap="butt"/>
<text x="591.43" y="1103.70" font-size="36.5" text-anchor="middle">1000</text>
<line x1="680.85" y1="1050.60" x2="680.85" y2="1061.60" stroke="#000" stroke-width="5" stroke-linecap="butt"/>
<text x="680.85" y="1103.70" font-size="36.5" text-anchor="middle">1200</text>
<line x1="770.28" y1="1050.60" x2="770.28" y2="1061.60" stroke="#000" stroke-width="5" stroke-linecap="butt"/>
<text x="770.28" y="1103.70" font-size="36.5" text-anchor="middle">1400</text>
<line x1="859.70" y1="1050.60" x2="859.70" y2="1061.60" stroke="#000" stroke-width="5" stroke-linecap="butt"/>
<text x="859.70" y="1103.70" font-size="36.5" text-anchor="middle">1600</text>
<rect x="144.60" y="607.60" width="715.10" height="443.00" fill="none" stroke="#000" stroke-width="5"/>
<text x="399.48" y="1152.20" font-size="36.40" textLength="78.87" lengthAdjust="spacingAndGlyphs">Time</text>
<text x="485.68" y="1152.20" font-size="36.40" textLength="82.95" lengthAdjust="spacingAndGlyphs">(min)</text>
<text transform="translate(75.30,930.19) rotate(-90)" x="0" y="0" font-size="36.20" textLength="46.22" lengthAdjust="spacingAndGlyphs">Qe</text>
<text transform="translate(75.30,876.35) rotate(-90)" x="0" y="0" font-size="36.20" textLength="100.55" lengthAdjust="spacingAndGlyphs">(mg/g)</text>
<text x="155.56" y="644.59" font-size="27.67" textLength="84.68" lengthAdjust="spacingAndGlyphs">Cr(VI)</text>
<text x="0.08" y="603.14" font-size="52.67" textLength="67.75" lengthAdjust="spacingAndGlyphs">(b)</text>
<line x1="171.00" y1="884.30" x2="171.00" y2="899.90" stroke="#404040" stroke-width="2.2" stroke-linecap="butt"/>
<line x1="164.50" y1="884.30" x2="177.50" y2="884.30" stroke="#404040" stroke-width="2.2" stroke-linecap="butt"/>
<line x1="164.50" y1="899.90" x2="177.50" y2="899.90" stroke="#404040" stroke-width="2.2" stroke-linecap="butt"/>
<line x1="197.50" y1="859.00" x2="197.50" y2="877.00" stroke="#404040" stroke-width="2.2" stroke-linecap="butt"/>
<line x1="191.00" y1="859.00" x2="204.00" y2="859.00" stroke="#404040" stroke-width="2.2" stroke-linecap="butt"/>
<line x1="191.00" y1="877.00" x2="204.00" y2="877.00" stroke="#404040" stroke-width="2.2" stroke-linecap="butt"/>
<line x1="224.70" y1="831.60" x2="224.70" y2="850.80" stroke="#404040" stroke-width="2.2" stroke-linecap="butt"/>
<line x1="218.20" y1="831.60" x2="231.20" y2="831.60" stroke="#404040" stroke-width="2.2" stroke-linecap="butt"/>
<line x1="218.20" y1="850.80" x2="231.20" y2="850.80" stroke="#404040" stroke-width="2.2" stroke-linecap="butt"/>
<line x1="305.30" y1="776.50" x2="305.30" y2="802.50" stroke="#404040" stroke-width="2.2" stroke-linecap="butt"/>
<line x1="298.80" y1="776.50" x2="311.80" y2="776.50" stroke="#404040" stroke-width="2.2" stroke-linecap="butt"/>
<line x1="298.80" y1="802.50" x2="311.80" y2="802.50" stroke="#404040" stroke-width="2.2" stroke-linecap="butt"/>
<line x1="385.50" y1="760.80" x2="385.50" y2="788.20" stroke="#404040" stroke-width="2.2" stroke-linecap="butt"/>
<line x1="379.00" y1="760.80" x2="392.00" y2="760.80" stroke="#404040" stroke-width="2.2" stroke-linecap="butt"/>
<line x1="379.00" y1="788.20" x2="392.00" y2="788.20" stroke="#404040" stroke-width="2.2" stroke-linecap="butt"/>
<line x1="466.20" y1="749.90" x2="466.20" y2="778.50" stroke="#404040" stroke-width="2.2" stroke-linecap="butt"/>
<line x1="459.70" y1="749.90" x2="472.70" y2="749.90" stroke="#404040" stroke-width="2.2" stroke-linecap="butt"/>
<line x1="459.70" y1="778.50" x2="472.70" y2="778.50" stroke="#404040" stroke-width="2.2" stroke-linecap="butt"/>
<line x1="546.90" y1="735.40" x2="546.90" y2="762.40" stroke="#404040" stroke-width="2.2" stroke-linecap="butt"/>
<line x1="540.40" y1="735.40" x2="553.40" y2="735.40" stroke="#404040" stroke-width="2.2" stroke-linecap="butt"/>
<line x1="540.40" y1="762.40" x2="553.40" y2="762.40" stroke="#404040" stroke-width="2.2" stroke-linecap="butt"/>
<line x1="627.30" y1="731.10" x2="627.30" y2="762.90" stroke="#404040" stroke-width="2.2" stroke-linecap="butt"/>
<line x1="620.80" y1="731.10" x2="633.80" y2="731.10" stroke="#404040" stroke-width="2.2" stroke-linecap="butt"/>
<line x1="620.80" y1="762.90" x2="633.80" y2="762.90" stroke="#404040" stroke-width="2.2" stroke-linecap="butt"/>
<line x1="708.00" y1="736.30" x2="708.00" y2="767.10" stroke="#404040" stroke-width="2.2" stroke-linecap="butt"/>
<line x1="701.50" y1="736.30" x2="714.50" y2="736.30" stroke="#404040" stroke-width="2.2" stroke-linecap="butt"/>
<line x1="701.50" y1="767.10" x2="714.50" y2="767.10" stroke="#404040" stroke-width="2.2" stroke-linecap="butt"/>
<line x1="788.80" y1="736.90" x2="788.80" y2="768.50" stroke="#404040" stroke-width="2.2" stroke-linecap="butt"/>
<line x1="782.30" y1="736.90" x2="795.30" y2="736.90" stroke="#404040" stroke-width="2.2" stroke-linecap="butt"/>
<line x1="782.30" y1="768.50" x2="795.30" y2="768.50" stroke="#404040" stroke-width="2.2" stroke-linecap="butt"/>
<line x1="157.50" y1="887.10" x2="157.50" y2="902.70" stroke="#404040" stroke-width="2.2" stroke-linecap="butt"/>
<line x1="151.00" y1="887.10" x2="164.00" y2="887.10" stroke="#404040" stroke-width="2.2" stroke-linecap="butt"/>
<line x1="151.00" y1="902.70" x2="164.00" y2="902.70" stroke="#404040" stroke-width="2.2" stroke-linecap="butt"/>
<line x1="171.00" y1="858.20" x2="171.00" y2="877.80" stroke="#404040" stroke-width="2.2" stroke-linecap="butt"/>
<line x1="164.50" y1="858.20" x2="177.50" y2="858.20" stroke="#404040" stroke-width="2.2" stroke-linecap="butt"/>
<line x1="164.50" y1="877.80" x2="177.50" y2="877.80" stroke="#404040" stroke-width="2.2" stroke-linecap="butt"/>
<line x1="197.50" y1="834.30" x2="197.50" y2="855.30" stroke="#404040" stroke-width="2.2" stroke-linecap="butt"/>
<line x1="191.00" y1="834.30" x2="204.00" y2="834.30" stroke="#404040" stroke-width="2.2" stroke-linecap="butt"/>
<line x1="191.00" y1="855.30" x2="204.00" y2="855.30" stroke="#404040" stroke-width="2.2" stroke-linecap="butt"/>
<line x1="224.70" y1="810.00" x2="224.70" y2="832.00" stroke="#404040" stroke-width="2.2" stroke-linecap="butt"/>
<line x1="218.20" y1="810.00" x2="231.20" y2="810.00" stroke="#404040" stroke-width="2.2" stroke-linecap="butt"/>
<line x1="218.20" y1="832.00" x2="231.20" y2="832.00" stroke="#404040" stroke-width="2.2" stroke-linecap="butt"/>
<line x1="305.30" y1="757.90" x2="305.30" y2="787.90" stroke="#404040" stroke-width="2.2" stroke-linecap="butt"/>
<line x1="298.80" y1="757.90" x2="311.80" y2="757.90" stroke="#404040" stroke-width="2.2" stroke-linecap="butt"/>
<line x1="298.80" y1="787.90" x2="311.80" y2="787.90" stroke="#404040" stroke-width="2.2" stroke-linecap="butt"/>
<line x1="385.50" y1="733.90" x2="385.50" y2="762.90" stroke="#404040" stroke-width="2.2" stroke-linecap="butt"/>
<line x1="379.00" y1="733.90" x2="392.00" y2="733.90" stroke="#404040" stroke-width="2.2" stroke-linecap="butt"/>
<line x1="379.00" y1="762.90" x2="392.00" y2="762.90" stroke="#404040" stroke-width="2.2" stroke-linecap="butt"/>
<line x1="466.20" y1="711.50" x2="466.20" y2="742.50" stroke="#404040" stroke-width="2.2" stroke-linecap="butt"/>
<line x1="459.70" y1="711.50" x2="472.70" y2="711.50" stroke="#404040" stroke-width="2.2" stroke-linecap="butt"/>
<line x1="459.70" y1="742.50" x2="472.70" y2="742.50" stroke="#404040" stroke-width="2.2" stroke-linecap="butt"/>
<line x1="546.90" y1="698.90" x2="546.90" y2="729.90" stroke="#404040" stroke-width="2.2" stroke-linecap="butt"/>
<line x1="540.40" y1="698.90" x2="553.40" y2="698.90" stroke="#404040" stroke-width="2.2" stroke-linecap="butt"/>
<line x1="540.40" y1="729.90" x2="553.40" y2="729.90" stroke="#404040" stroke-width="2.2" stroke-linecap="butt"/>
<line x1="627.30" y1="695.20" x2="627.30" y2="726.80" stroke="#404040" stroke-width="2.2" stroke-linecap="butt"/>
<line x1="620.80" y1="695.20" x2="633.80" y2="695.20" stroke="#404040" stroke-width="2.2" stroke-linecap="butt"/>
<line x1="620.80" y1="726.80" x2="633.80" y2="726.80" stroke="#404040" stroke-width="2.2" stroke-linecap="butt"/>
<line x1="708.00" y1="691.20" x2="708.00" y2="725.80" stroke="#404040" stroke-width="2.2" stroke-linecap="butt"/>
<line x1="701.50" y1="691.20" x2="714.50" y2="691.20" stroke="#404040" stroke-width="2.2" stroke-linecap="butt"/>
<line x1="701.50" y1="725.80" x2="714.50" y2="725.80" stroke="#404040" stroke-width="2.2" stroke-linecap="butt"/>
<line x1="788.80" y1="688.80" x2="788.80" y2="722.40" stroke="#404040" stroke-width="2.2" stroke-linecap="butt"/>
<line x1="782.30" y1="688.80" x2="795.30" y2="688.80" stroke="#404040" stroke-width="2.2" stroke-linecap="butt"/>
<line x1="782.30" y1="722.40" x2="795.30" y2="722.40" stroke="#404040" stroke-width="2.2" stroke-linecap="butt"/>
<line x1="171.00" y1="845.20" x2="171.00" y2="865.20" stroke="#404040" stroke-width="2.2" stroke-linecap="butt"/>
<line x1="164.50" y1="845.20" x2="177.50" y2="845.20" stroke="#404040" stroke-width="2.2" stroke-linecap="butt"/>
<line x1="164.50" y1="865.20" x2="177.50" y2="865.20" stroke="#404040" stroke-width="2.2" stroke-linecap="butt"/>
<line x1="197.50" y1="813.20" x2="197.50" y2="836.80" stroke="#404040" stroke-width="2.2" stroke-linecap="butt"/>
<line x1="191.00" y1="813.20" x2="204.00" y2="813.20" stroke="#404040" stroke-width="2.2" stroke-linecap="butt"/>
<line x1="191.00" y1="836.80" x2="204.00" y2="836.80" stroke="#404040" stroke-width="2.2" stroke-linecap="butt"/>
<line x1="224.70" y1="783.70" x2="224.70" y2="809.90" stroke="#404040" stroke-width="2.2" stroke-linecap="butt"/>
<line x1="218.20" y1="783.70" x2="231.20" y2="783.70" stroke="#404040" stroke-width="2.2" stroke-linecap="butt"/>
<line x1="218.20" y1="809.90" x2="231.20" y2="809.90" stroke="#404040" stroke-width="2.2" stroke-linecap="butt"/>
<line x1="305.30" y1="725.90" x2="305.30" y2="756.50" stroke="#404040" stroke-width="2.2" stroke-linecap="butt"/>
<line x1="298.80" y1="725.90" x2="311.80" y2="725.90" stroke="#404040" stroke-width="2.2" stroke-linecap="butt"/>
<line x1="298.80" y1="756.50" x2="311.80" y2="756.50" stroke="#404040" stroke-width="2.2" stroke-linecap="butt"/>
<line x1="385.50" y1="700.10" x2="385.50" y2="731.10" stroke="#404040" stroke-width="2.2" stroke-linecap="butt"/>
<line x1="379.00" y1="700.10" x2="392.00" y2="700.10" stroke="#404040" stroke-width="2.2" stroke-linecap="butt"/>
<line x1="379.00" y1="731.10" x2="392.00" y2="731.10" stroke="#404040" stroke-width="2.2" stroke-linecap="butt"/>
<line x1="466.20" y1="682.70" x2="466.20" y2="717.50" stroke="#404040" stroke-width="2.2" stroke-linecap="butt"/>
<line x1="459.70" y1="682.70" x2="472.70" y2="682.70" stroke="#404040" stroke-width="2.2" stroke-linecap="butt"/>
<line x1="459.70" y1="717.50" x2="472.70" y2="717.50" stroke="#404040" stroke-width="2.2" stroke-linecap="butt"/>
<line x1="546.90" y1="669.60" x2="546.90" y2="704.40" stroke="#404040" stroke-width="2.2" stroke-linecap="butt"/>
<line x1="540.40" y1="669.60" x2="553.40" y2="669.60" stroke="#404040" stroke-width="2.2" stroke-linecap="butt"/>
<line x1="540.40" y1="704.40" x2="553.40" y2="704.40" stroke="#404040" stroke-width="2.2" stroke-linecap="butt"/>
<line x1="627.30" y1="665.90" x2="627.30" y2="703.10" stroke="#404040" stroke-width="2.2" stroke-linecap="butt"/>
<line x1="620.80" y1="665.90" x2="633.80" y2="665.90" stroke="#404040" stroke-width="2.2" stroke-linecap="butt"/>
<line x1="620.80" y1="703.10" x2="633.80" y2="703.10" stroke="#404040" stroke-width="2.2" stroke-linecap="butt"/>
<line x1="708.00" y1="662.80" x2="708.00" y2="700.40" stroke="#404040" stroke-width="2.2" stroke-linecap="butt"/>
<line x1="701.50" y1="662.80" x2="714.50" y2="662.80" stroke="#404040" stroke-width="2.2" stroke-linecap="butt"/>
<line x1="701.50" y1="700.40" x2="714.50" y2="700.40" stroke="#404040" stroke-width="2.2" stroke-linecap="butt"/>
<line x1="788.80" y1="664.30" x2="788.80" y2="701.70" stroke="#404040" stroke-width="2.2" stroke-linecap="butt"/>
<line x1="782.30" y1="664.30" x2="795.30" y2="664.30" stroke="#404040" stroke-width="2.2" stroke-linecap="butt"/>
<line x1="782.30" y1="701.70" x2="795.30" y2="701.70" stroke="#404040" stroke-width="2.2" stroke-linecap="butt"/>
<polyline points="150.60,974.50 157.50,936.60 171.00,892.10 197.50,868.00 224.70,841.20 305.30,789.50 385.50,774.50 466.20,764.20 546.90,748.90 627.30,747.00 708.00,751.70 788.80,752.70" fill="none" stroke="#ED7D31" stroke-width="4.4" stroke-linejoin="round" stroke-linecap="round"/>
<circle cx="150.60" cy="974.50" r="8" fill="#ED7D31"/>
<circle cx="157.50" cy="936.60" r="8" fill="#ED7D31"/>
<circle cx="171.00" cy="892.10" r="8" fill="#ED7D31"/>
<circle cx="197.50" cy="868.00" r="8" fill="#ED7D31"/>
<circle cx="224.70" cy="841.20" r="8" fill="#ED7D31"/>
<circle cx="305.30" cy="789.50" r="8" fill="#ED7D31"/>
<circle cx="385.50" cy="774.50" r="8" fill="#ED7D31"/>
<circle cx="466.20" cy="764.20" r="8" fill="#ED7D31"/>
<circle cx="546.90" cy="748.90" r="8" fill="#ED7D31"/>
<circle cx="627.30" cy="747.00" r="8" fill="#ED7D31"/>
<circle cx="708.00" cy="751.70" r="8" fill="#ED7D31"/>
<circle cx="788.80" cy="752.70" r="8" fill="#ED7D31"/>
<polyline points="150.60,987.60 157.50,894.90 171.00,868.00 197.50,844.80 224.70,821.00 305.30,772.90 385.50,748.40 466.20,727.00 546.90,714.40 627.30,711.00 708.00,708.50 788.80,705.60" fill="none" stroke="#5B9BD5" stroke-width="4.4" stroke-linejoin="round" stroke-linecap="round"/>
<circle cx="150.60" cy="987.60" r="8" fill="#5B9BD5"/>
<circle cx="157.50" cy="894.90" r="8" fill="#5B9BD5"/>
<circle cx="171.00" cy="868.00" r="8" fill="#5B9BD5"/>
<circle cx="197.50" cy="844.80" r="8" fill="#5B9BD5"/>
<circle cx="224.70" cy="821.00" r="8" fill="#5B9BD5"/>
<circle cx="305.30" cy="772.90" r="8" fill="#5B9BD5"/>
<circle cx="385.50" cy="748.40" r="8" fill="#5B9BD5"/>
<circle cx="466.20" cy="727.00" r="8" fill="#5B9BD5"/>
<circle cx="546.90" cy="714.40" r="8" fill="#5B9BD5"/>
<circle cx="627.30" cy="711.00" r="8" fill="#5B9BD5"/>
<circle cx="708.00" cy="708.50" r="8" fill="#5B9BD5"/>
<circle cx="788.80" cy="705.60" r="8" fill="#5B9BD5"/>
<polyline points="150.60,953.40 157.50,928.10 171.00,855.20 197.50,825.00 224.70,796.80 305.30,741.20 385.50,715.60 466.20,700.10 546.90,687.00 627.30,684.50 708.00,681.60 788.80,683.00" fill="none" stroke="#C00000" stroke-width="4.4" stroke-linejoin="round" stroke-linecap="round"/>
<circle cx="150.60" cy="953.40" r="8" fill="#C00000"/>
<circle cx="157.50" cy="928.10" r="8" fill="#C00000"/>
<circle cx="171.00" cy="855.20" r="8" fill="#C00000"/>
<circle cx="197.50" cy="825.00" r="8" fill="#C00000"/>
<circle cx="224.70" cy="796.80" r="8" fill="#C00000"/>
<circle cx="305.30" cy="741.20" r="8" fill="#C00000"/>
<circle cx="385.50" cy="715.60" r="8" fill="#C00000"/>
<circle cx="466.20" cy="700.10" r="8" fill="#C00000"/>
<circle cx="546.90" cy="687.00" r="8" fill="#C00000"/>
<circle cx="627.30" cy="684.50" r="8" fill="#C00000"/>
<circle cx="708.00" cy="681.60" r="8" fill="#C00000"/>
<circle cx="788.80" cy="683.00" r="8" fill="#C00000"/>
<line x1="630.50" y1="933.50" x2="687.40" y2="933.50" stroke="#ED7D31" stroke-width="4.2" stroke-linecap="round"/>
<circle cx="658.20" cy="933.50" r="7.6" fill="#ED7D31"/>
<text x="693.41" y="945.10" font-size="30.00" textLength="97.83" lengthAdjust="spacingAndGlyphs">20mg/L</text>
<line x1="630.50" y1="976.50" x2="687.40" y2="976.50" stroke="#5B9BD5" stroke-width="4.2" stroke-linecap="round"/>
<circle cx="658.20" cy="976.50" r="7.6" fill="#5B9BD5"/>
<text x="693.41" y="986.30" font-size="30.00" textLength="97.83" lengthAdjust="spacingAndGlyphs">40mg/L</text>
<line x1="630.50" y1="1017.90" x2="687.40" y2="1017.90" stroke="#C00000" stroke-width="4.2" stroke-linecap="round"/>
<circle cx="658.20" cy="1017.90" r="7.6" fill="#C00000"/>
<text x="693.41" y="1027.50" font-size="30.00" textLength="97.83" lengthAdjust="spacingAndGlyphs">60mg/L</text>
<line x1="973.50" y1="1064.30" x2="984.00" y2="1064.30" stroke="#000" stroke-width="5" stroke-linecap="butt"/>
<text x="954.76" y="1076.05" font-size="36.5" text-anchor="end">0</text>
<line x1="973.50" y1="1001.29" x2="984.00" y2="1001.29" stroke="#000" stroke-width="5" stroke-linecap="butt"/>
<text x="954.76" y="1013.03" font-size="36.5" text-anchor="end">10</text>
<line x1="973.50" y1="938.27" x2="984.00" y2="938.27" stroke="#000" stroke-width="5" stroke-linecap="butt"/>
<text x="954.76" y="950.02" font-size="36.5" text-anchor="end">20</text>
<line x1="973.50" y1="875.26" x2="984.00" y2="875.26" stroke="#000" stroke-width="5" stroke-linecap="butt"/>
<text x="954.76" y="887.00" font-size="36.5" text-anchor="end">30</text>
<line x1="973.50" y1="812.24" x2="984.00" y2="812.24" stroke="#000" stroke-width="5" stroke-linecap="butt"/>
<text x="954.76" y="823.99" font-size="36.5" text-anchor="end">40</text>
<line x1="973.50" y1="749.23" x2="984.00" y2="749.23" stroke="#000" stroke-width="5" stroke-linecap="butt"/>
<text x="954.76" y="760.97" font-size="36.5" text-anchor="end">50</text>
<line x1="973.50" y1="686.21" x2="984.00" y2="686.21" stroke="#000" stroke-width="5" stroke-linecap="butt"/>
<text x="954.76" y="697.96" font-size="36.5" text-anchor="end">60</text>
<line x1="973.50" y1="623.20" x2="984.00" y2="623.20" stroke="#000" stroke-width="5" stroke-linecap="butt"/>
<text x="954.76" y="634.95" font-size="36.5" text-anchor="end">70</text>
<line x1="984.00" y1="1064.30" x2="984.00" y2="1075.30" stroke="#000" stroke-width="5" stroke-linecap="butt"/>
<text x="984.00" y="1116.80" font-size="36.5" text-anchor="middle">0</text>
<line x1="1077.41" y1="1064.30" x2="1077.41" y2="1075.30" stroke="#000" stroke-width="5" stroke-linecap="butt"/>
<text x="1077.41" y="1116.80" font-size="36.5" text-anchor="middle">200</text>
<line x1="1170.83" y1="1064.30" x2="1170.83" y2="1075.30" stroke="#000" stroke-width="5" stroke-linecap="butt"/>
<text x="1170.83" y="1116.80" font-size="36.5" text-anchor="middle">400</text>
<line x1="1264.24" y1="1064.30" x2="1264.24" y2="1075.30" stroke="#000" stroke-width="5" stroke-linecap="butt"/>
<text x="1264.24" y="1116.80" font-size="36.5" text-anchor="middle">600</text>
<line x1="1357.65" y1="1064.30" x2="1357.65" y2="1075.30" stroke="#000" stroke-width="5" stroke-linecap="butt"/>
<text x="1357.65" y="1116.80" font-size="36.5" text-anchor="middle">800</text>
<line x1="1451.06" y1="1064.30" x2="1451.06" y2="1075.30" stroke="#000" stroke-width="5" stroke-linecap="butt"/>
<text x="1451.06" y="1116.80" font-size="36.5" text-anchor="middle">1000</text>
<line x1="1544.47" y1="1064.30" x2="1544.47" y2="1075.30" stroke="#000" stroke-width="5" stroke-linecap="butt"/>
<text x="1544.47" y="1116.80" font-size="36.5" text-anchor="middle">1200</text>
<line x1="1637.89" y1="1064.30" x2="1637.89" y2="1075.30" stroke="#000" stroke-width="5" stroke-linecap="butt"/>
<text x="1637.89" y="1116.80" font-size="36.5" text-anchor="middle">1400</text>
<line x1="1731.30" y1="1064.30" x2="1731.30" y2="1075.30" stroke="#000" stroke-width="5" stroke-linecap="butt"/>
<text x="1731.30" y="1116.80" font-size="36.5" text-anchor="middle">1600</text>
<rect x="984.00" y="623.20" width="747.90" height="441.10" fill="none" stroke="#000" stroke-width="5"/>
<text x="1257.10" y="1161.20" font-size="41.00" textLength="88.36" lengthAdjust="spacingAndGlyphs">Time</text>
<text x="1359.44" y="1161.20" font-size="41.00" textLength="97.05" lengthAdjust="spacingAndGlyphs">(min)</text>
<text transform="translate(904.30,944.17) rotate(-90)" x="0" y="0" font-size="36.20" textLength="45.80" lengthAdjust="spacingAndGlyphs">Qe</text>
<text transform="translate(904.30,890.34) rotate(-90)" x="0" y="0" font-size="36.20" textLength="100.03" lengthAdjust="spacingAndGlyphs">(mg/g)</text>
<text x="1000.57" y="651.51" font-size="27.56" textLength="77.65" lengthAdjust="spacingAndGlyphs">Cu(II)</text>
<line x1="1039.70" y1="904.00" x2="1039.70" y2="924.00" stroke="#404040" stroke-width="2.2" stroke-linecap="butt"/>
<line x1="1033.20" y1="904.00" x2="1046.20" y2="904.00" stroke="#404040" stroke-width="2.2" stroke-linecap="butt"/>
<line x1="1033.20" y1="924.00" x2="1046.20" y2="924.00" stroke="#404040" stroke-width="2.2" stroke-linecap="butt"/>
<line x1="1067.90" y1="887.50" x2="1067.90" y2="904.90" stroke="#404040" stroke-width="2.2" stroke-linecap="butt"/>
<line x1="1061.40" y1="887.50" x2="1074.40" y2="887.50" stroke="#404040" stroke-width="2.2" stroke-linecap="butt"/>
<line x1="1061.40" y1="904.90" x2="1074.40" y2="904.90" stroke="#404040" stroke-width="2.2" stroke-linecap="butt"/>
<line x1="1151.90" y1="828.20" x2="1151.90" y2="851.20" stroke="#404040" stroke-width="2.2" stroke-linecap="butt"/>
<line x1="1145.40" y1="828.20" x2="1158.40" y2="828.20" stroke="#404040" stroke-width="2.2" stroke-linecap="butt"/>
<line x1="1145.40" y1="851.20" x2="1158.40" y2="851.20" stroke="#404040" stroke-width="2.2" stroke-linecap="butt"/>
<line x1="1236.20" y1="798.10" x2="1236.20" y2="824.10" stroke="#404040" stroke-width="2.2" stroke-linecap="butt"/>
<line x1="1229.70" y1="798.10" x2="1242.70" y2="798.10" stroke="#404040" stroke-width="2.2" stroke-linecap="butt"/>
<line x1="1229.70" y1="824.10" x2="1242.70" y2="824.10" stroke="#404040" stroke-width="2.2" stroke-linecap="butt"/>
<line x1="1320.00" y1="775.10" x2="1320.00" y2="801.10" stroke="#404040" stroke-width="2.2" stroke-linecap="butt"/>
<line x1="1313.50" y1="775.10" x2="1326.50" y2="775.10" stroke="#404040" stroke-width="2.2" stroke-linecap="butt"/>
<line x1="1313.50" y1="801.10" x2="1326.50" y2="801.10" stroke="#404040" stroke-width="2.2" stroke-linecap="butt"/>
<line x1="1404.50" y1="774.20" x2="1404.50" y2="800.60" stroke="#404040" stroke-width="2.2" stroke-linecap="butt"/>
<line x1="1398.00" y1="774.20" x2="1411.00" y2="774.20" stroke="#404040" stroke-width="2.2" stroke-linecap="butt"/>
<line x1="1398.00" y1="800.60" x2="1411.00" y2="800.60" stroke="#404040" stroke-width="2.2" stroke-linecap="butt"/>
<line x1="1488.70" y1="760.10" x2="1488.70" y2="787.70" stroke="#404040" stroke-width="2.2" stroke-linecap="butt"/>
<line x1="1482.20" y1="760.10" x2="1495.20" y2="760.10" stroke="#404040" stroke-width="2.2" stroke-linecap="butt"/>
<line x1="1482.20" y1="787.70" x2="1495.20" y2="787.70" stroke="#404040" stroke-width="2.2" stroke-linecap="butt"/>
<line x1="1572.60" y1="757.00" x2="1572.60" y2="785.00" stroke="#404040" stroke-width="2.2" stroke-linecap="butt"/>
<line x1="1566.10" y1="757.00" x2="1579.10" y2="757.00" stroke="#404040" stroke-width="2.2" stroke-linecap="butt"/>
<line x1="1566.10" y1="785.00" x2="1579.10" y2="785.00" stroke="#404040" stroke-width="2.2" stroke-linecap="butt"/>
<line x1="1656.80" y1="760.10" x2="1656.80" y2="787.70" stroke="#404040" stroke-width="2.2" stroke-linecap="butt"/>
<line x1="1650.30" y1="760.10" x2="1663.30" y2="760.10" stroke="#404040" stroke-width="2.2" stroke-linecap="butt"/>
<line x1="1650.30" y1="787.70" x2="1663.30" y2="787.70" stroke="#404040" stroke-width="2.2" stroke-linecap="butt"/>
<line x1="1039.70" y1="901.50" x2="1039.70" y2="917.50" stroke="#404040" stroke-width="2.2" stroke-linecap="butt"/>
<line x1="1033.20" y1="901.50" x2="1046.20" y2="901.50" stroke="#404040" stroke-width="2.2" stroke-linecap="butt"/>
<line x1="1033.20" y1="917.50" x2="1046.20" y2="917.50" stroke="#404040" stroke-width="2.2" stroke-linecap="butt"/>
<line x1="1067.90" y1="855.20" x2="1067.90" y2="875.20" stroke="#404040" stroke-width="2.2" stroke-linecap="butt"/>
<line x1="1061.40" y1="855.20" x2="1074.40" y2="855.20" stroke="#404040" stroke-width="2.2" stroke-linecap="butt"/>
<line x1="1061.40" y1="875.20" x2="1074.40" y2="875.20" stroke="#404040" stroke-width="2.2" stroke-linecap="butt"/>
<line x1="1151.90" y1="791.80" x2="1151.90" y2="822.40" stroke="#404040" stroke-width="2.2" stroke-linecap="butt"/>
<line x1="1145.40" y1="791.80" x2="1158.40" y2="791.80" stroke="#404040" stroke-width="2.2" stroke-linecap="butt"/>
<line x1="1145.40" y1="822.40" x2="1158.40" y2="822.40" stroke="#404040" stroke-width="2.2" stroke-linecap="butt"/>
<line x1="1236.20" y1="741.10" x2="1236.20" y2="772.70" stroke="#404040" stroke-width="2.2" stroke-linecap="butt"/>
<line x1="1229.70" y1="741.10" x2="1242.70" y2="741.10" stroke="#404040" stroke-width="2.2" stroke-linecap="butt"/>
<line x1="1229.70" y1="772.70" x2="1242.70" y2="772.70" stroke="#404040" stroke-width="2.2" stroke-linecap="butt"/>
<line x1="1320.00" y1="709.50" x2="1320.00" y2="742.10" stroke="#404040" stroke-width="2.2" stroke-linecap="butt"/>
<line x1="1313.50" y1="709.50" x2="1326.50" y2="709.50" stroke="#404040" stroke-width="2.2" stroke-linecap="butt"/>
<line x1="1313.50" y1="742.10" x2="1326.50" y2="742.10" stroke="#404040" stroke-width="2.2" stroke-linecap="butt"/>
<line x1="1404.50" y1="705.40" x2="1404.50" y2="741.00" stroke="#404040" stroke-width="2.2" stroke-linecap="butt"/>
<line x1="1398.00" y1="705.40" x2="1411.00" y2="705.40" stroke="#404040" stroke-width="2.2" stroke-linecap="butt"/>
<line x1="1398.00" y1="741.00" x2="1411.00" y2="741.00" stroke="#404040" stroke-width="2.2" stroke-linecap="butt"/>
<line x1="1488.70" y1="692.90" x2="1488.70" y2="726.50" stroke="#404040" stroke-width="2.2" stroke-linecap="butt"/>
<line x1="1482.20" y1="692.90" x2="1495.20" y2="692.90" stroke="#404040" stroke-width="2.2" stroke-linecap="butt"/>
<line x1="1482.20" y1="726.50" x2="1495.20" y2="726.50" stroke="#404040" stroke-width="2.2" stroke-linecap="butt"/>
<line x1="1572.60" y1="688.60" x2="1572.60" y2="725.40" stroke="#404040" stroke-width="2.2" stroke-linecap="butt"/>
<line x1="1566.10" y1="688.60" x2="1579.10" y2="688.60" stroke="#404040" stroke-width="2.2" stroke-linecap="butt"/>
<line x1="1566.10" y1="725.40" x2="1579.10" y2="725.40" stroke="#404040" stroke-width="2.2" stroke-linecap="butt"/>
<line x1="1656.80" y1="690.00" x2="1656.80" y2="725.40" stroke="#404040" stroke-width="2.2" stroke-linecap="butt"/>
<line x1="1650.30" y1="690.00" x2="1663.30" y2="690.00" stroke="#404040" stroke-width="2.2" stroke-linecap="butt"/>
<line x1="1650.30" y1="725.40" x2="1663.30" y2="725.40" stroke="#404040" stroke-width="2.2" stroke-linecap="butt"/>
<line x1="1011.30" y1="905.80" x2="1011.30" y2="921.20" stroke="#404040" stroke-width="2.2" stroke-linecap="butt"/>
<line x1="1004.80" y1="905.80" x2="1017.80" y2="905.80" stroke="#404040" stroke-width="2.2" stroke-linecap="butt"/>
<line x1="1004.80" y1="921.20" x2="1017.80" y2="921.20" stroke="#404040" stroke-width="2.2" stroke-linecap="butt"/>
<line x1="1039.70" y1="823.80" x2="1039.70" y2="846.80" stroke="#404040" stroke-width="2.2" stroke-linecap="butt"/>
<line x1="1033.20" y1="823.80" x2="1046.20" y2="823.80" stroke="#404040" stroke-width="2.2" stroke-linecap="butt"/>
<line x1="1033.20" y1="846.80" x2="1046.20" y2="846.80" stroke="#404040" stroke-width="2.2" stroke-linecap="butt"/>
<line x1="1067.90" y1="766.30" x2="1067.90" y2="795.10" stroke="#404040" stroke-width="2.2" stroke-linecap="butt"/>
<line x1="1061.40" y1="766.30" x2="1074.40" y2="766.30" stroke="#404040" stroke-width="2.2" stroke-linecap="butt"/>
<line x1="1061.40" y1="795.10" x2="1074.40" y2="795.10" stroke="#404040" stroke-width="2.2" stroke-linecap="butt"/>
<line x1="1151.90" y1="704.10" x2="1151.90" y2="738.30" stroke="#404040" stroke-width="2.2" stroke-linecap="butt"/>
<line x1="1145.40" y1="704.10" x2="1158.40" y2="704.10" stroke="#404040" stroke-width="2.2" stroke-linecap="butt"/>
<line x1="1145.40" y1="738.30" x2="1158.40" y2="738.30" stroke="#404040" stroke-width="2.2" stroke-linecap="butt"/>
<line x1="1236.20" y1="679.70" x2="1236.20" y2="716.50" stroke="#404040" stroke-width="2.2" stroke-linecap="butt"/>
<line x1="1229.70" y1="679.70" x2="1242.70" y2="679.70" stroke="#404040" stroke-width="2.2" stroke-linecap="butt"/>
<line x1="1229.70" y1="716.50" x2="1242.70" y2="716.50" stroke="#404040" stroke-width="2.2" stroke-linecap="butt"/>
<line x1="1320.00" y1="659.80" x2="1320.00" y2="699.60" stroke="#404040" stroke-width="2.2" stroke-linecap="butt"/>
<line x1="1313.50" y1="659.80" x2="1326.50" y2="659.80" stroke="#404040" stroke-width="2.2" stroke-linecap="butt"/>
<line x1="1313.50" y1="699.60" x2="1326.50" y2="699.60" stroke="#404040" stroke-width="2.2" stroke-linecap="butt"/>
<line x1="1404.50" y1="655.20" x2="1404.50" y2="693.20" stroke="#404040" stroke-width="2.2" stroke-linecap="butt"/>
<line x1="1398.00" y1="655.20" x2="1411.00" y2="655.20" stroke="#404040" stroke-width="2.2" stroke-linecap="butt"/>
<line x1="1398.00" y1="693.20" x2="1411.00" y2="693.20" stroke="#404040" stroke-width="2.2" stroke-linecap="butt"/>
<line x1="1488.70" y1="648.70" x2="1488.70" y2="688.50" stroke="#404040" stroke-width="2.2" stroke-linecap="butt"/>
<line x1="1482.20" y1="648.70" x2="1495.20" y2="648.70" stroke="#404040" stroke-width="2.2" stroke-linecap="butt"/>
<line x1="1482.20" y1="688.50" x2="1495.20" y2="688.50" stroke="#404040" stroke-width="2.2" stroke-linecap="butt"/>
<line x1="1572.60" y1="644.30" x2="1572.60" y2="687.30" stroke="#404040" stroke-width="2.2" stroke-linecap="butt"/>
<line x1="1566.10" y1="644.30" x2="1579.10" y2="644.30" stroke="#404040" stroke-width="2.2" stroke-linecap="butt"/>
<line x1="1566.10" y1="687.30" x2="1579.10" y2="687.30" stroke="#404040" stroke-width="2.2" stroke-linecap="butt"/>
<line x1="1656.80" y1="645.60" x2="1656.80" y2="686.00" stroke="#404040" stroke-width="2.2" stroke-linecap="butt"/>
<line x1="1650.30" y1="645.60" x2="1663.30" y2="645.60" stroke="#404040" stroke-width="2.2" stroke-linecap="butt"/>
<line x1="1650.30" y1="686.00" x2="1663.30" y2="686.00" stroke="#404040" stroke-width="2.2" stroke-linecap="butt"/>
<polyline points="991.20,1027.00 998.30,1017.80 1011.30,963.10 1039.70,914.00 1067.90,896.20 1151.90,839.70 1236.20,811.10 1320.00,788.10 1404.50,787.40 1488.70,773.90 1572.60,771.00 1656.80,773.90" fill="none" stroke="#ED7D31" stroke-width="4.4" stroke-linejoin="round" stroke-linecap="round"/>
<circle cx="991.20" cy="1027.00" r="8" fill="#ED7D31"/>
<circle cx="998.30" cy="1017.80" r="8" fill="#ED7D31"/>
<circle cx="1011.30" cy="963.10" r="8" fill="#ED7D31"/>
<circle cx="1039.70" cy="914.00" r="8" fill="#ED7D31"/>
<circle cx="1067.90" cy="896.20" r="8" fill="#ED7D31"/>
<circle cx="1151.90" cy="839.70" r="8" fill="#ED7D31"/>
<circle cx="1236.20" cy="811.10" r="8" fill="#ED7D31"/>
<circle cx="1320.00" cy="788.10" r="8" fill="#ED7D31"/>
<circle cx="1404.50" cy="787.40" r="8" fill="#ED7D31"/>
<circle cx="1488.70" cy="773.90" r="8" fill="#ED7D31"/>
<circle cx="1572.60" cy="771.00" r="8" fill="#ED7D31"/>
<circle cx="1656.80" cy="773.90" r="8" fill="#ED7D31"/>
<polyline points="991.20,1033.60 998.30,1023.40 1011.30,993.30 1039.70,909.50 1067.90,865.20 1151.90,807.10 1236.20,756.90 1320.00,725.80 1404.50,723.20 1488.70,709.70 1572.60,707.00 1656.80,707.70" fill="none" stroke="#5B9BD5" stroke-width="4.4" stroke-linejoin="round" stroke-linecap="round"/>
<circle cx="991.20" cy="1033.60" r="8" fill="#5B9BD5"/>
<circle cx="998.30" cy="1023.40" r="8" fill="#5B9BD5"/>
<circle cx="1011.30" cy="993.30" r="8" fill="#5B9BD5"/>
<circle cx="1039.70" cy="909.50" r="8" fill="#5B9BD5"/>
<circle cx="1067.90" cy="865.20" r="8" fill="#5B9BD5"/>
<circle cx="1151.90" cy="807.10" r="8" fill="#5B9BD5"/>
<circle cx="1236.20" cy="756.90" r="8" fill="#5B9BD5"/>
<circle cx="1320.00" cy="725.80" r="8" fill="#5B9BD5"/>
<circle cx="1404.50" cy="723.20" r="8" fill="#5B9BD5"/>
<circle cx="1488.70" cy="709.70" r="8" fill="#5B9BD5"/>
<circle cx="1572.60" cy="707.00" r="8" fill="#5B9BD5"/>
<circle cx="1656.80" cy="707.70" r="8" fill="#5B9BD5"/>
<polyline points="991.20,1018.80 998.30,985.90 1011.30,913.50 1039.70,835.30 1067.90,780.70 1151.90,721.20 1236.20,698.10 1320.00,679.70 1404.50,674.20 1488.70,668.60 1572.60,665.80 1656.80,665.80" fill="none" stroke="#C00000" stroke-width="4.4" stroke-linejoin="round" stroke-linecap="round"/>
<circle cx="991.20" cy="1018.80" r="8" fill="#C00000"/>
<circle cx="998.30" cy="985.90" r="8" fill="#C00000"/>
<circle cx="1011.30" cy="913.50" r="8" fill="#C00000"/>
<circle cx="1039.70" cy="835.30" r="8" fill="#C00000"/>
<circle cx="1067.90" cy="780.70" r="8" fill="#C00000"/>
<circle cx="1151.90" cy="721.20" r="8" fill="#C00000"/>
<circle cx="1236.20" cy="698.10" r="8" fill="#C00000"/>
<circle cx="1320.00" cy="679.70" r="8" fill="#C00000"/>
<circle cx="1404.50" cy="674.20" r="8" fill="#C00000"/>
<circle cx="1488.70" cy="668.60" r="8" fill="#C00000"/>
<circle cx="1572.60" cy="665.80" r="8" fill="#C00000"/>
<circle cx="1656.80" cy="665.80" r="8" fill="#C00000"/>
<line x1="1527.20" y1="955.40" x2="1582.70" y2="955.40" stroke="#ED7D31" stroke-width="4.2" stroke-linecap="round"/>
<circle cx="1554.10" cy="955.40" r="7.6" fill="#ED7D31"/>
<text x="1590.00" y="965.20" font-size="30.00" textLength="98.24" lengthAdjust="spacingAndGlyphs">50mg/L</text>
<line x1="1527.20" y1="998.10" x2="1582.70" y2="998.10" stroke="#5B9BD5" stroke-width="4.2" stroke-linecap="round"/>
<circle cx="1554.10" cy="998.10" r="7.6" fill="#5B9BD5"/>
<text x="1590.22" y="1007.90" font-size="30.00" textLength="112.51" lengthAdjust="spacingAndGlyphs">100mg/L</text>
<line x1="1527.20" y1="1040.50" x2="1582.70" y2="1040.50" stroke="#C00000" stroke-width="4.2" stroke-linecap="round"/>
<circle cx="1554.10" cy="1040.50" r="7.6" fill="#C00000"/>
<text x="1590.22" y="1050.30" font-size="30.00" textLength="112.51" lengthAdjust="spacingAndGlyphs">150mg/L</text>
<line x1="149.70" y1="1639.40" x2="159.70" y2="1639.40" stroke="#000" stroke-width="4" stroke-linecap="butt"/>
<text x="132.90" y="1650.12" font-size="32.5" text-anchor="end">0</text>
<line x1="149.70" y1="1569.88" x2="159.70" y2="1569.88" stroke="#000" stroke-width="4" stroke-linecap="butt"/>
<text x="132.90" y="1580.61" font-size="32.5" text-anchor="end">2</text>
<line x1="149.70" y1="1500.37" x2="159.70" y2="1500.37" stroke="#000" stroke-width="4" stroke-linecap="butt"/>
<text x="132.90" y="1511.09" font-size="32.5" text-anchor="end">4</text>
<line x1="149.70" y1="1430.85" x2="159.70" y2="1430.85" stroke="#000" stroke-width="4" stroke-linecap="butt"/>
<text x="132.90" y="1441.57" font-size="32.5" text-anchor="end">6</text>
<line x1="149.70" y1="1361.33" x2="159.70" y2="1361.33" stroke="#000" stroke-width="4" stroke-linecap="butt"/>
<text x="132.90" y="1372.06" font-size="32.5" text-anchor="end">8</text>
<line x1="149.70" y1="1291.82" x2="159.70" y2="1291.82" stroke="#000" stroke-width="4" stroke-linecap="butt"/>
<text x="132.90" y="1302.54" font-size="32.5" text-anchor="end">10</text>
<line x1="149.70" y1="1222.30" x2="159.70" y2="1222.30" stroke="#000" stroke-width="4" stroke-linecap="butt"/>
<text x="132.90" y="1233.02" font-size="32.5" text-anchor="end">12</text>
<line x1="159.70" y1="1639.40" x2="159.70" y2="1649.40" stroke="#000" stroke-width="4" stroke-linecap="butt"/>
<text x="160.70" y="1688.00" font-size="32.5" text-anchor="middle">0</text>
<line x1="223.39" y1="1639.40" x2="223.39" y2="1649.40" stroke="#000" stroke-width="4" stroke-linecap="butt"/>
<text x="224.39" y="1688.00" font-size="32.5" text-anchor="middle">5</text>
<line x1="287.08" y1="1639.40" x2="287.08" y2="1649.40" stroke="#000" stroke-width="4" stroke-linecap="butt"/>
<text x="288.08" y="1688.00" font-size="32.5" text-anchor="middle">10</text>
<line x1="350.77" y1="1639.40" x2="350.77" y2="1649.40" stroke="#000" stroke-width="4" stroke-linecap="butt"/>
<text x="351.77" y="1688.00" font-size="32.5" text-anchor="middle">15</text>
<line x1="414.46" y1="1639.40" x2="414.46" y2="1649.40" stroke="#000" stroke-width="4" stroke-linecap="butt"/>
<text x="415.46" y="1688.00" font-size="32.5" text-anchor="middle">20</text>
<line x1="478.15" y1="1639.40" x2="478.15" y2="1649.40" stroke="#000" stroke-width="4" stroke-linecap="butt"/>
<text x="479.15" y="1688.00" font-size="32.5" text-anchor="middle">25</text>
<line x1="541.85" y1="1639.40" x2="541.85" y2="1649.40" stroke="#000" stroke-width="4" stroke-linecap="butt"/>
<text x="542.85" y="1688.00" font-size="32.5" text-anchor="middle">30</text>
<line x1="605.54" y1="1639.40" x2="605.54" y2="1649.40" stroke="#000" stroke-width="4" stroke-linecap="butt"/>
<text x="606.54" y="1688.00" font-size="32.5" text-anchor="middle">35</text>
<line x1="669.23" y1="1639.40" x2="669.23" y2="1649.40" stroke="#000" stroke-width="4" stroke-linecap="butt"/>
<text x="670.23" y="1688.00" font-size="32.5" text-anchor="middle">40</text>
<line x1="732.92" y1="1639.40" x2="732.92" y2="1649.40" stroke="#000" stroke-width="4" stroke-linecap="butt"/>
<text x="733.92" y="1688.00" font-size="32.5" text-anchor="middle">45</text>
<line x1="796.61" y1="1639.40" x2="796.61" y2="1649.40" stroke="#000" stroke-width="4" stroke-linecap="butt"/>
<text x="797.61" y="1688.00" font-size="32.5" text-anchor="middle">50</text>
<line x1="860.30" y1="1639.40" x2="860.30" y2="1649.40" stroke="#000" stroke-width="4" stroke-linecap="butt"/>
<text x="861.30" y="1688.00" font-size="32.5" text-anchor="middle">55</text>
<rect x="159.70" y="1222.30" width="700.80" height="417.10" fill="none" stroke="#000" stroke-width="4"/>
<text x="432.71" y="1736.54" font-size="34.70" textLength="155.92" lengthAdjust="spacingAndGlyphs">Ce (mg/L)</text>
<text transform="translate(90.70,1514.02) rotate(-90)" x="0" y="0" font-size="39.50" textLength="37.19" lengthAdjust="spacingAndGlyphs">Qe</text>
<text transform="translate(90.70,1463.87) rotate(-90)" x="0" y="0" font-size="39.50" textLength="116.14" lengthAdjust="spacingAndGlyphs">(mg/g)</text>
<text x="164.29" y="1255.67" font-size="24.44" textLength="77.34" lengthAdjust="spacingAndGlyphs">Cr(VI)</text>
<text x="4.46" y="1207.61" font-size="52.33" textLength="62.07" lengthAdjust="spacingAndGlyphs">(c)</text>
<line x1="207.30" y1="1472.80" x2="207.30" y2="1488.60" stroke="#404040" stroke-width="2.2" stroke-linecap="butt"/>
<line x1="200.50" y1="1472.80" x2="214.10" y2="1472.80" stroke="#404040" stroke-width="2.2" stroke-linecap="butt"/>
<line x1="200.50" y1="1488.60" x2="214.10" y2="1488.60" stroke="#404040" stroke-width="2.2" stroke-linecap="butt"/>
<line x1="246.90" y1="1407.80" x2="246.90" y2="1431.00" stroke="#404040" stroke-width="2.2" stroke-linecap="butt"/>
<line x1="240.10" y1="1407.80" x2="253.70" y2="1407.80" stroke="#404040" stroke-width="2.2" stroke-linecap="butt"/>
<line x1="240.10" y1="1431.00" x2="253.70" y2="1431.00" stroke="#404040" stroke-width="2.2" stroke-linecap="butt"/>
<line x1="295.90" y1="1380.20" x2="295.90" y2="1405.20" stroke="#404040" stroke-width="2.2" stroke-linecap="butt"/>
<line x1="289.10" y1="1380.20" x2="302.70" y2="1380.20" stroke="#404040" stroke-width="2.2" stroke-linecap="butt"/>
<line x1="289.10" y1="1405.20" x2="302.70" y2="1405.20" stroke="#404040" stroke-width="2.2" stroke-linecap="butt"/>
<line x1="344.80" y1="1358.60" x2="344.80" y2="1386.40" stroke="#404040" stroke-width="2.2" stroke-linecap="butt"/>
<line x1="338.00" y1="1358.60" x2="351.60" y2="1358.60" stroke="#404040" stroke-width="2.2" stroke-linecap="butt"/>
<line x1="338.00" y1="1386.40" x2="351.60" y2="1386.40" stroke="#404040" stroke-width="2.2" stroke-linecap="butt"/>
<line x1="426.40" y1="1328.90" x2="426.40" y2="1359.70" stroke="#404040" stroke-width="2.2" stroke-linecap="butt"/>
<line x1="419.60" y1="1328.90" x2="433.20" y2="1328.90" stroke="#404040" stroke-width="2.2" stroke-linecap="butt"/>
<line x1="419.60" y1="1359.70" x2="433.20" y2="1359.70" stroke="#404040" stroke-width="2.2" stroke-linecap="butt"/>
<line x1="486.30" y1="1317.60" x2="486.30" y2="1348.40" stroke="#404040" stroke-width="2.2" stroke-linecap="butt"/>
<line x1="479.50" y1="1317.60" x2="493.10" y2="1317.60" stroke="#404040" stroke-width="2.2" stroke-linecap="butt"/>
<line x1="479.50" y1="1348.40" x2="493.10" y2="1348.40" stroke="#404040" stroke-width="2.2" stroke-linecap="butt"/>
<line x1="611.50" y1="1306.00" x2="611.50" y2="1337.20" stroke="#404040" stroke-width="2.2" stroke-linecap="butt"/>
<line x1="604.70" y1="1306.00" x2="618.30" y2="1306.00" stroke="#404040" stroke-width="2.2" stroke-linecap="butt"/>
<line x1="604.70" y1="1337.20" x2="618.30" y2="1337.20" stroke="#404040" stroke-width="2.2" stroke-linecap="butt"/>
<line x1="737.60" y1="1305.60" x2="737.60" y2="1337.60" stroke="#404040" stroke-width="2.2" stroke-linecap="butt"/>
<line x1="730.80" y1="1305.60" x2="744.40" y2="1305.60" stroke="#404040" stroke-width="2.2" stroke-linecap="butt"/>
<line x1="730.80" y1="1337.60" x2="744.40" y2="1337.60" stroke="#404040" stroke-width="2.2" stroke-linecap="butt"/>
<circle cx="207.30" cy="1480.70" r="7.0" fill="#002060"/>
<circle cx="246.90" cy="1419.40" r="7.0" fill="#002060"/>
<circle cx="295.90" cy="1392.70" r="7.0" fill="#002060"/>
<circle cx="344.80" cy="1372.50" r="7.0" fill="#002060"/>
<circle cx="426.40" cy="1344.30" r="7.0" fill="#002060"/>
<circle cx="486.30" cy="1333.00" r="7.0" fill="#002060"/>
<circle cx="611.50" cy="1321.60" r="7.0" fill="#002060"/>
<circle cx="737.60" cy="1321.60" r="7.0" fill="#002060"/>
<circle cx="235.60" cy="1638.80" r="7.0" fill="#C00000"/>
<circle cx="285.80" cy="1633.80" r="7.0" fill="#C00000"/>
<circle cx="340.70" cy="1639.40" r="7.0" fill="#C00000"/>
<circle cx="393.80" cy="1637.20" r="7.0" fill="#C00000"/>
<circle cx="480.80" cy="1638.40" r="7.0" fill="#C00000"/>
<circle cx="541.60" cy="1637.30" r="7.0" fill="#C00000"/>
<circle cx="669.80" cy="1638.60" r="7.0" fill="#C00000"/>
<circle cx="794.60" cy="1637.30" r="7.0" fill="#C00000"/>
<circle cx="641.40" cy="1572.20" r="7.0" fill="#002060"/>
<text x="654.82" y="1580.92" font-size="27.61" textLength="186.09" lengthAdjust="spacingAndGlyphs">SA/CMC-ZFN</text>
<circle cx="641.40" cy="1615.60" r="7.0" fill="#C00000"/>
<text x="654.81" y="1624.82" font-size="27.61" textLength="117.60" lengthAdjust="spacingAndGlyphs">SA/CMC</text>
<line x1="979.50" y1="1652.80" x2="989.50" y2="1652.80" stroke="#000" stroke-width="4" stroke-linecap="butt"/>
<text x="960.50" y="1663.52" font-size="32.5" text-anchor="end">0</text>
<line x1="979.50" y1="1589.90" x2="989.50" y2="1589.90" stroke="#000" stroke-width="4" stroke-linecap="butt"/>
<text x="960.50" y="1600.62" font-size="32.5" text-anchor="end">10</text>
<line x1="979.50" y1="1527.00" x2="989.50" y2="1527.00" stroke="#000" stroke-width="4" stroke-linecap="butt"/>
<text x="960.50" y="1537.72" font-size="32.5" text-anchor="end">20</text>
<line x1="979.50" y1="1464.10" x2="989.50" y2="1464.10" stroke="#000" stroke-width="4" stroke-linecap="butt"/>
<text x="960.50" y="1474.82" font-size="32.5" text-anchor="end">30</text>
<line x1="979.50" y1="1401.20" x2="989.50" y2="1401.20" stroke="#000" stroke-width="4" stroke-linecap="butt"/>
<text x="960.50" y="1411.92" font-size="32.5" text-anchor="end">40</text>
<line x1="979.50" y1="1338.30" x2="989.50" y2="1338.30" stroke="#000" stroke-width="4" stroke-linecap="butt"/>
<text x="960.50" y="1349.02" font-size="32.5" text-anchor="end">50</text>
<line x1="979.50" y1="1275.40" x2="989.50" y2="1275.40" stroke="#000" stroke-width="4" stroke-linecap="butt"/>
<text x="960.50" y="1286.12" font-size="32.5" text-anchor="end">60</text>
<line x1="979.50" y1="1212.50" x2="989.50" y2="1212.50" stroke="#000" stroke-width="4" stroke-linecap="butt"/>
<text x="960.50" y="1223.22" font-size="32.5" text-anchor="end">70</text>
<line x1="989.20" y1="1652.80" x2="989.20" y2="1662.80" stroke="#000" stroke-width="4" stroke-linecap="butt"/>
<text x="989.20" y="1702.50" font-size="32.5" text-anchor="middle">0</text>
<line x1="1079.79" y1="1652.80" x2="1079.79" y2="1662.80" stroke="#000" stroke-width="4" stroke-linecap="butt"/>
<text x="1079.79" y="1702.50" font-size="32.5" text-anchor="middle">25</text>
<line x1="1170.38" y1="1652.80" x2="1170.38" y2="1662.80" stroke="#000" stroke-width="4" stroke-linecap="butt"/>
<text x="1170.38" y="1702.50" font-size="32.5" text-anchor="middle">50</text>
<line x1="1260.96" y1="1652.80" x2="1260.96" y2="1662.80" stroke="#000" stroke-width="4" stroke-linecap="butt"/>
<text x="1260.96" y="1702.50" font-size="32.5" text-anchor="middle">75</text>
<line x1="1351.55" y1="1652.80" x2="1351.55" y2="1662.80" stroke="#000" stroke-width="4" stroke-linecap="butt"/>
<text x="1351.55" y="1702.50" font-size="32.5" text-anchor="middle">100</text>
<line x1="1442.14" y1="1652.80" x2="1442.14" y2="1662.80" stroke="#000" stroke-width="4" stroke-linecap="butt"/>
<text x="1442.14" y="1702.50" font-size="32.5" text-anchor="middle">125</text>
<line x1="1532.73" y1="1652.80" x2="1532.73" y2="1662.80" stroke="#000" stroke-width="4" stroke-linecap="butt"/>
<text x="1532.73" y="1702.50" font-size="32.5" text-anchor="middle">150</text>
<line x1="1623.31" y1="1652.80" x2="1623.31" y2="1662.80" stroke="#000" stroke-width="4" stroke-linecap="butt"/>
<text x="1623.31" y="1702.50" font-size="32.5" text-anchor="middle">175</text>
<line x1="1713.90" y1="1652.80" x2="1713.90" y2="1662.80" stroke="#000" stroke-width="4" stroke-linecap="butt"/>
<text x="1713.90" y="1702.50" font-size="32.5" text-anchor="middle">200</text>
<rect x="989.50" y="1212.50" width="724.50" height="440.30" fill="none" stroke="#000" stroke-width="4"/>
<text x="1273.51" y="1750.95" font-size="33.99" textLength="156.33" lengthAdjust="spacingAndGlyphs">Ce (mg/L)</text>
<text transform="translate(903.30,1517.69) rotate(-90)" x="0" y="0" font-size="36.30" textLength="46.22" lengthAdjust="spacingAndGlyphs">Qe</text>
<text transform="translate(903.30,1463.15) rotate(-90)" x="0" y="0" font-size="36.30" textLength="100.65" lengthAdjust="spacingAndGlyphs">(mg/g)</text>
<text x="1007.69" y="1249.51" font-size="27.11" textLength="76.93" lengthAdjust="spacingAndGlyphs">Cu(II)</text>
<line x1="991.50" y1="1552.00" x2="991.50" y2="1560.00" stroke="#404040" stroke-width="2.2" stroke-linecap="butt"/>
<line x1="984.70" y1="1552.00" x2="998.30" y2="1552.00" stroke="#404040" stroke-width="2.2" stroke-linecap="butt"/>
<line x1="984.70" y1="1560.00" x2="998.30" y2="1560.00" stroke="#404040" stroke-width="2.2" stroke-linecap="butt"/>
<line x1="1011.30" y1="1440.50" x2="1011.30" y2="1461.50" stroke="#404040" stroke-width="2.2" stroke-linecap="butt"/>
<line x1="1004.50" y1="1440.50" x2="1018.10" y2="1440.50" stroke="#404040" stroke-width="2.2" stroke-linecap="butt"/>
<line x1="1004.50" y1="1461.50" x2="1018.10" y2="1461.50" stroke="#404040" stroke-width="2.2" stroke-linecap="butt"/>
<line x1="1063.40" y1="1332.00" x2="1063.40" y2="1361.60" stroke="#404040" stroke-width="2.2" stroke-linecap="butt"/>
<line x1="1056.60" y1="1332.00" x2="1070.20" y2="1332.00" stroke="#404040" stroke-width="2.2" stroke-linecap="butt"/>
<line x1="1056.60" y1="1361.60" x2="1070.20" y2="1361.60" stroke="#404040" stroke-width="2.2" stroke-linecap="butt"/>
<line x1="1156.20" y1="1286.70" x2="1156.20" y2="1322.30" stroke="#404040" stroke-width="2.2" stroke-linecap="butt"/>
<line x1="1149.40" y1="1286.70" x2="1163.00" y2="1286.70" stroke="#404040" stroke-width="2.2" stroke-linecap="butt"/>
<line x1="1149.40" y1="1322.30" x2="1163.00" y2="1322.30" stroke="#404040" stroke-width="2.2" stroke-linecap="butt"/>
<line x1="1214.60" y1="1268.90" x2="1214.60" y2="1305.90" stroke="#404040" stroke-width="2.2" stroke-linecap="butt"/>
<line x1="1207.80" y1="1268.90" x2="1221.40" y2="1268.90" stroke="#404040" stroke-width="2.2" stroke-linecap="butt"/>
<line x1="1207.80" y1="1305.90" x2="1221.40" y2="1305.90" stroke="#404040" stroke-width="2.2" stroke-linecap="butt"/>
<line x1="1383.60" y1="1255.80" x2="1383.60" y2="1293.00" stroke="#404040" stroke-width="2.2" stroke-linecap="butt"/>
<line x1="1376.80" y1="1255.80" x2="1390.40" y2="1255.80" stroke="#404040" stroke-width="2.2" stroke-linecap="butt"/>
<line x1="1376.80" y1="1293.00" x2="1390.40" y2="1293.00" stroke="#404040" stroke-width="2.2" stroke-linecap="butt"/>
<line x1="1591.30" y1="1244.30" x2="1591.30" y2="1284.30" stroke="#404040" stroke-width="2.2" stroke-linecap="butt"/>
<line x1="1584.50" y1="1244.30" x2="1598.10" y2="1244.30" stroke="#404040" stroke-width="2.2" stroke-linecap="butt"/>
<line x1="1584.50" y1="1284.30" x2="1598.10" y2="1284.30" stroke="#404040" stroke-width="2.2" stroke-linecap="butt"/>
<circle cx="991.50" cy="1556.00" r="7.0" fill="#002060"/>
<circle cx="1011.30" cy="1451.00" r="7.0" fill="#002060"/>
<circle cx="1063.40" cy="1346.80" r="7.0" fill="#002060"/>
<circle cx="1156.20" cy="1304.50" r="7.0" fill="#002060"/>
<circle cx="1214.60" cy="1287.40" r="7.0" fill="#002060"/>
<circle cx="1383.60" cy="1274.40" r="7.0" fill="#002060"/>
<circle cx="1591.30" cy="1264.30" r="7.0" fill="#002060"/>
<line x1="1039.60" y1="1543.30" x2="1039.60" y2="1555.30" stroke="#404040" stroke-width="2.2" stroke-linecap="butt"/>
<line x1="1032.80" y1="1543.30" x2="1046.40" y2="1543.30" stroke="#404040" stroke-width="2.2" stroke-linecap="butt"/>
<line x1="1032.80" y1="1555.30" x2="1046.40" y2="1555.30" stroke="#404040" stroke-width="2.2" stroke-linecap="butt"/>
<line x1="1103.60" y1="1479.20" x2="1103.60" y2="1496.40" stroke="#404040" stroke-width="2.2" stroke-linecap="butt"/>
<line x1="1096.80" y1="1479.20" x2="1110.40" y2="1479.20" stroke="#404040" stroke-width="2.2" stroke-linecap="butt"/>
<line x1="1096.80" y1="1496.40" x2="1110.40" y2="1496.40" stroke="#404040" stroke-width="2.2" stroke-linecap="butt"/>
<line x1="1202.80" y1="1455.90" x2="1202.80" y2="1474.50" stroke="#404040" stroke-width="2.2" stroke-linecap="butt"/>
<line x1="1196.00" y1="1455.90" x2="1209.60" y2="1455.90" stroke="#404040" stroke-width="2.2" stroke-linecap="butt"/>
<line x1="1196.00" y1="1474.50" x2="1209.60" y2="1474.50" stroke="#404040" stroke-width="2.2" stroke-linecap="butt"/>
<line x1="1264.00" y1="1449.60" x2="1264.00" y2="1469.40" stroke="#404040" stroke-width="2.2" stroke-linecap="butt"/>
<line x1="1257.20" y1="1449.60" x2="1270.80" y2="1449.60" stroke="#404040" stroke-width="2.2" stroke-linecap="butt"/>
<line x1="1257.20" y1="1469.40" x2="1270.80" y2="1469.40" stroke="#404040" stroke-width="2.2" stroke-linecap="butt"/>
<line x1="1436.20" y1="1447.00" x2="1436.20" y2="1465.60" stroke="#404040" stroke-width="2.2" stroke-linecap="butt"/>
<line x1="1429.40" y1="1447.00" x2="1443.00" y2="1447.00" stroke="#404040" stroke-width="2.2" stroke-linecap="butt"/>
<line x1="1429.40" y1="1465.60" x2="1443.00" y2="1465.60" stroke="#404040" stroke-width="2.2" stroke-linecap="butt"/>
<line x1="1645.20" y1="1446.30" x2="1645.20" y2="1466.30" stroke="#404040" stroke-width="2.2" stroke-linecap="butt"/>
<line x1="1638.40" y1="1446.30" x2="1652.00" y2="1446.30" stroke="#404040" stroke-width="2.2" stroke-linecap="butt"/>
<line x1="1638.40" y1="1466.30" x2="1652.00" y2="1466.30" stroke="#404040" stroke-width="2.2" stroke-linecap="butt"/>
<circle cx="1008.00" cy="1613.20" r="7.0" fill="#C00000"/>
<circle cx="1039.60" cy="1549.30" r="7.0" fill="#C00000"/>
<circle cx="1103.60" cy="1487.80" r="7.0" fill="#C00000"/>
<circle cx="1202.80" cy="1465.20" r="7.0" fill="#C00000"/>
<circle cx="1264.00" cy="1459.50" r="7.0" fill="#C00000"/>
<circle cx="1436.20" cy="1456.30" r="7.0" fill="#C00000"/>
<circle cx="1645.20" cy="1456.30" r="7.0" fill="#C00000"/>
<circle cx="1486.20" cy="1579.10" r="7.0" fill="#002060"/>
<text x="1499.62" y="1589.71" font-size="28.66" textLength="186.29" lengthAdjust="spacingAndGlyphs">SA/CMC-ZFN</text>
<circle cx="1486.20" cy="1623.00" r="7.0" fill="#C00000"/>
<text x="1499.59" y="1632.01" font-size="28.66" textLength="118.84" lengthAdjust="spacingAndGlyphs">SA/CMC</text>
</svg>
</body></html>
